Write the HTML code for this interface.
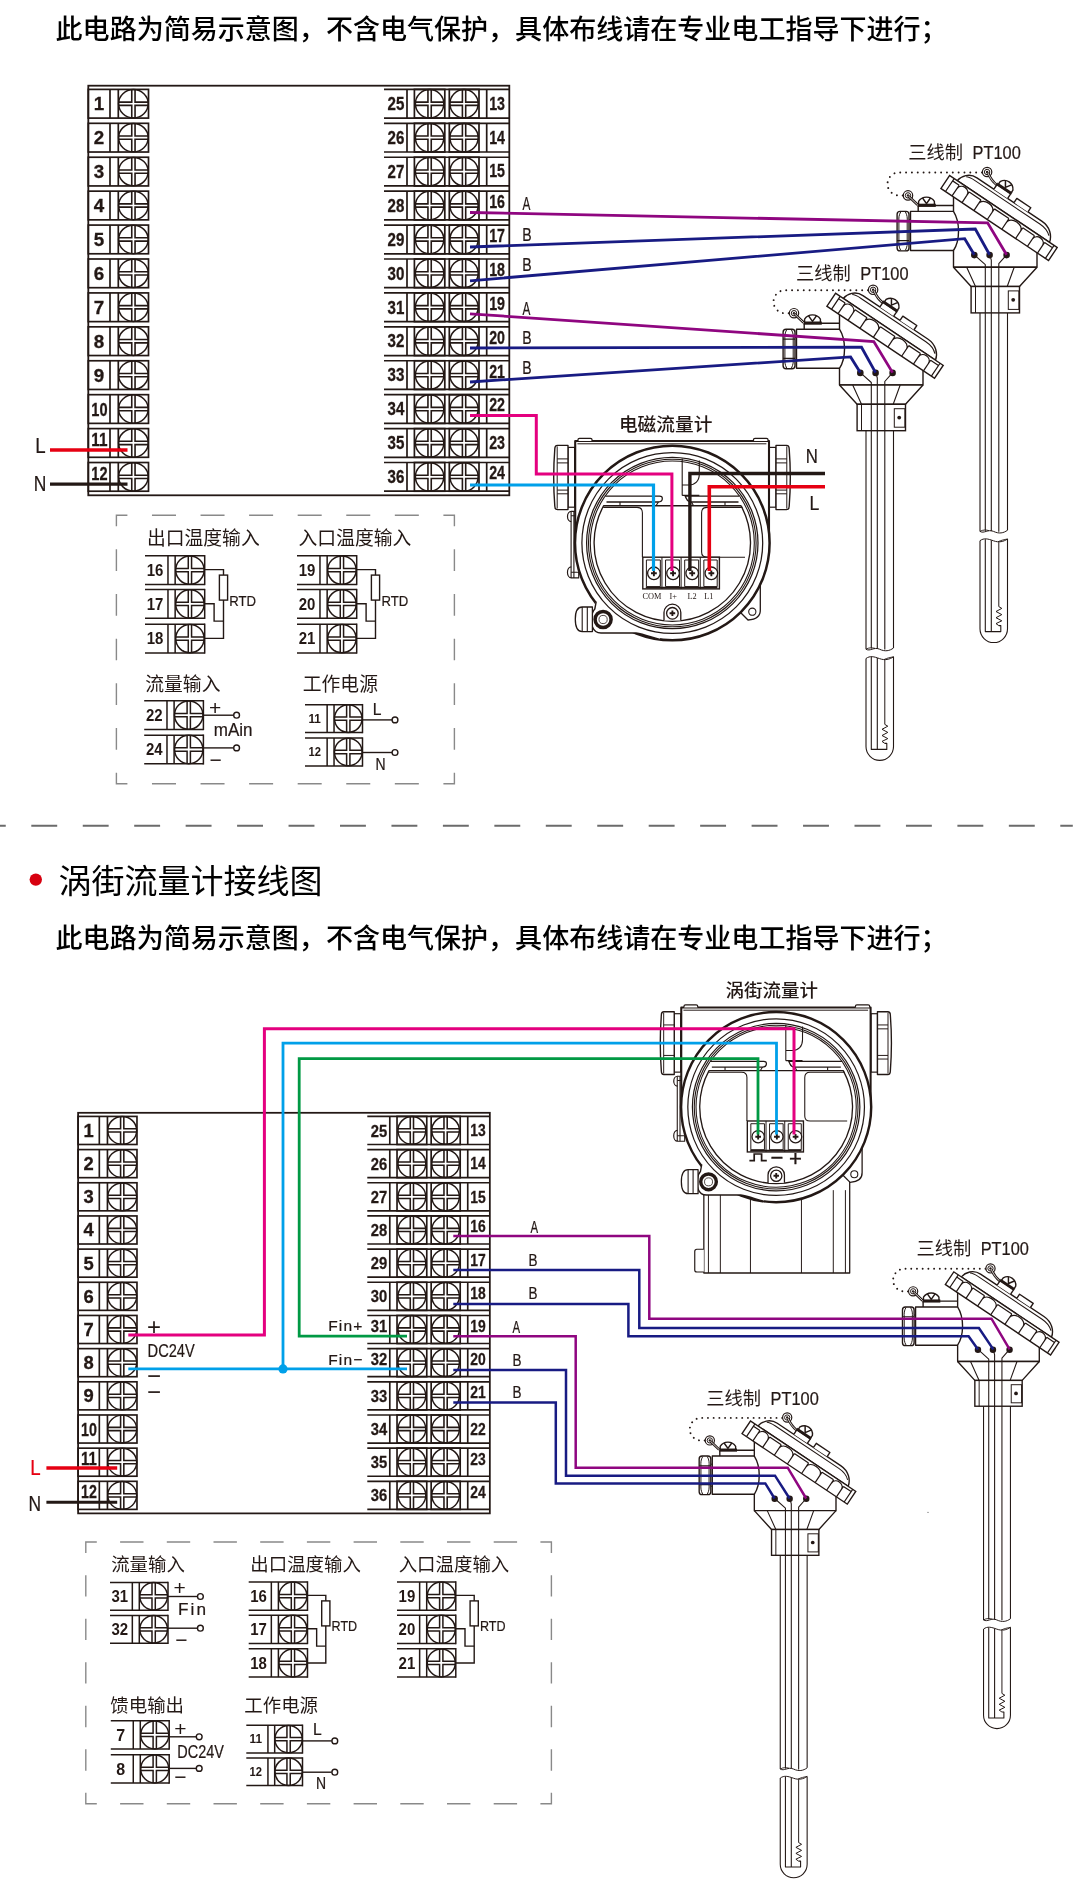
<!DOCTYPE html><html lang="zh"><head><meta charset="utf-8"><title>接线图</title><style>html,body{margin:0;padding:0;background:#fff}svg{display:block}text{white-space:pre}</style></head><body><svg width="1080" height="1881" viewBox="0 0 1080 1881"><filter id="aa" x="0" y="0" width="1080" height="1881" filterUnits="userSpaceOnUse"><feOffset dx="0" dy="0"/></filter><g filter="url(#aa)"><rect x="0" y="0" width="1080" height="1881" fill="#fff"/><text x="55.6" y="38.8" font-size="27.04" font-weight="500" fill="#000" style='font-family:"Liberation Sans","Noto Sans CJK SC",sans-serif' >此电路为简易示意图，不含电气保护，具体布线请在专业电工指导下进行；</text><defs><g id="pt"><path d="M839.5 313.5V329.2C846.2 340 846.2 358 839.5 368.3V385H923V369.5" stroke="#231815" stroke-width="1.4" fill="#fff" stroke-linejoin="round" /><path d="M839.5 329.2H796.5V368.3H839.5" stroke="#231815" stroke-width="1.4" fill="none" stroke-linejoin="round" /><path d="M804.2 329.2V323.3H839.5" stroke="#231815" stroke-width="1.4" fill="none" stroke-linejoin="round" /><path d="M804.6 322V319.2C806.7 315.8 810 314.9 812.5 314.9C815 314.9 818.3 315.8 820.4 319.2V322" stroke="#231815" stroke-width="1.4" fill="#fff" stroke-linejoin="round" /><path d="M808.4 315.6L812.5 321.4L816.6 315.6" stroke="#231815" stroke-width="1.5" fill="none" stroke-linejoin="round" /><rect x="803.6" y="321.5" width="18.2" height="3.2" fill="#231815"/><rect x="783.1" y="329.2" width="11.9" height="39.5" rx="3" fill="#fff" stroke="#231815" stroke-width="1.4"/><path d="M786.8 329.6C784.7 333 784.7 336 784.9 339.2V358.4C784.7 361.6 784.7 364.6 786.8 368.3" stroke="#231815" stroke-width="1" fill="none" stroke-linejoin="round" /><path d="M791.3 329.6C793.4 333 793.4 336 793.2 339.2V358.4C793.4 361.6 793.4 364.6 791.3 368.3" stroke="#231815" stroke-width="1" fill="none" stroke-linejoin="round" /><path d="M783.1 339.2H795M783.1 358.4H795" stroke="#231815" stroke-width="1.25" fill="none" stroke-linejoin="round" /><path d="M795 337.5H796.5M795 360H796.5" stroke="#231815" stroke-width="1" fill="none" stroke-linejoin="round" /><path d="M868 290.2H785A11.5 11.55 0 0 0 785 313.3H789" stroke="#231815" stroke-width="1.95" stroke-dasharray="0.01 5.83" stroke-linecap="round" fill="none"/><circle cx="794" cy="313.2" r="4.7" fill="#fff" stroke="#231815" stroke-width="1.2"/><circle cx="794" cy="313.2" r="2.7" fill="none" stroke="#231815" stroke-width="1.0"/><circle cx="794" cy="313.2" r="1.2" fill="#231815"/><circle cx="873.1" cy="289.8" r="4.7" fill="#fff" stroke="#231815" stroke-width="1.2"/><circle cx="873.1" cy="289.8" r="2.7" fill="none" stroke="#231815" stroke-width="1.0"/><circle cx="873.1" cy="289.8" r="1.2" fill="#231815"/><path d="M794.6 314L803.6 322.6" stroke="#231815" stroke-width="2.7" fill="none"/><path d="M794.6 314L803.6 322.6" stroke="#fff" stroke-width="0.8" fill="none"/><path d="M873.8 290.6C876.5 296.5 879 299.8 882.6 302.6" stroke="#231815" stroke-width="2.7" fill="none"/><path d="M873.8 290.6C876.5 296.5 879 299.8 882.6 302.6" stroke="#fff" stroke-width="0.8" fill="none"/><g transform="translate(835.6 293.3) rotate(33.8)"><path d="M9.2 0C10 -6 15 -13.3 24 -13.3L102 -13.3C112 -13.3 118.5 -7 120.2 0Z" stroke="#231815" stroke-width="1.4" fill="#fff" stroke-linejoin="round" /><path d="M14.5 -8.2C17 -9.9 20 -9.9 24 -9.9L102 -9.9C108 -9.9 113 -8 116 -5.2" stroke="#231815" stroke-width="1.1" fill="none" stroke-linejoin="round" /><path d="M44.4 -13.3V-18.6H61V-13.3" stroke="#231815" stroke-width="1.4" fill="#fff" stroke-linejoin="round" /><path d="M45.4 -20.4V-23C47.4 -26.8 50.4 -27.8 53 -27.8C55.6 -27.8 58.8 -26.8 60.8 -23V-20.4" stroke="#231815" stroke-width="1.4" fill="#fff" stroke-linejoin="round" /><path d="M49 -27.2L53 -21.2L57 -27.2" stroke="#231815" stroke-width="1.5" fill="none" stroke-linejoin="round" /><rect x="43.9" y="-20.9" width="17.8" height="2.6" fill="#231815"/><path d="M68.6 -13.3V-18.4H85.4V-13.3" stroke="#231815" stroke-width="1.4" fill="#fff" stroke-linejoin="round" /><rect x="0" y="0" width="129.5" height="15.6" fill="#fff" stroke="#231815" stroke-width="1.4"/><path d="M5.5 0V15.6M125.7 0V15.6M13.4 2.8V15.6M25.4 2.8V15.6M39.7 2.8V15.6M55.8 2.8V15.6M73.3 2.8V15.6M89.9 2.8V15.6M104.1 2.8V15.6M116.2 2.8V15.6M5.5 2.8H13.4M25.4 2.8H39.7M55.8 2.8H73.3M89.9 2.8H104.1M116.2 2.8H125.7M13.4 7C13.7 -0.6 25.1 -0.6 25.4 7M39.7 7C40 -0.6 55.5 -0.6 55.8 7M73.3 7C73.6 -0.6 89.6 -0.6 89.9 7M104.1 7C104.4 -0.6 115.9 -0.6 116.2 7" stroke="#231815" stroke-width="1.25" fill="none" stroke-linejoin="round" /></g><path d="M839.5 385L857.1 404.3H905.5L923 385" stroke="#231815" stroke-width="1.4" fill="#fff" stroke-linejoin="round" /><path d="M839.5 385H923" stroke="#231815" stroke-width="1.4" fill="none" stroke-linejoin="round" /><path d="M852.7 385L861.5 404.3M900.2 385L893.2 404.3" stroke="#231815" stroke-width="1.1" fill="none" stroke-linejoin="round" /><rect x="857.1" y="404.3" width="48.4" height="26.4" fill="#fff" stroke="#231815" stroke-width="1.4"/><path d="M861.5 404.3V430.7" stroke="#231815" stroke-width="1" fill="none" stroke-linejoin="round" /><rect x="894.3" y="408.7" width="10.6" height="18.5" fill="none" stroke="#231815" stroke-width="1.0"/><circle cx="899.2" cy="417.6" r="1.9" fill="#231815"/><path d="M866 430.7V649.2M893.5 430.7V648" stroke="#231815" stroke-width="1.1" fill="none" stroke-linejoin="round" /><path d="M860.3 372.6L871.3 382.5V648.6M875.8 372.6L877.3 378V649M892.6 372.6L884.8 381.5V649.6" stroke="#231815" stroke-width="1.1" fill="none" stroke-linejoin="round" /><path d="M866 649.2C870 651.8 874 646.6 879.5 649.2C885 651.8 889.5 651 893.5 648" stroke="#231815" stroke-width="1" fill="none" stroke-linejoin="round" /><path d="M866 649.2C869 647.4 872 647.6 875 648.4" stroke="#231815" stroke-width="0.9" fill="none" stroke-linejoin="round" /><path d="M866 658.5C870 655.5 874 656.6 879.5 658.6C885 660.6 889.5 659.5 893.5 656.8" stroke="#231815" stroke-width="1" fill="none" stroke-linejoin="round" /><path d="M884 659.6C887 658 890.5 657.4 893.5 656.8" stroke="#231815" stroke-width="0.9" fill="none" stroke-linejoin="round" /><path d="M866 658.5V746.6A13.75 13.75 0 0 0 893.5 746.6V656.8" stroke="#231815" stroke-width="1.1" fill="none" stroke-linejoin="round" /><path d="M871.3 657V749.4H886.8V743.4H884.8M877.3 658V749.4" stroke="#231815" stroke-width="1.1" fill="none" stroke-linejoin="round" /><path d="M884.8 660V724.4L887.8 726.2L882 729.3L887.8 732.4L882 735.5L887.8 738.6L882 741.4L884.8 743.4" stroke="#231815" stroke-width="1" fill="none" stroke-linejoin="round" /><circle cx="860.3" cy="372.9" r="3.3" fill="#231815"/><circle cx="875.6" cy="372.9" r="3.3" fill="#231815"/><circle cx="892.6" cy="372.9" r="3.3" fill="#231815"/></g></defs><g transform="translate(88.3 85.7)"><rect x="0" y="0" width="421" height="409.6" fill="none" stroke="#231815" stroke-width="1.8"/><rect x="0" y="3.7" width="60.2" height="28.7" fill="none" stroke="#231815" stroke-width="1.7"/><path d="M21.7 3.7L21.7 32.4" stroke="#231815" stroke-width="1.7" fill="none" /><path d="M30 3.7L30 32.4" stroke="#231815" stroke-width="1.7" fill="none" /><ellipse cx="45.1" cy="18.05" rx="14.8" ry="14.2" fill="none" stroke="#231815" stroke-width="1.5"/><path d="M30 16.4L43.45 16.4L43.45 3.7M30 19.7L43.45 19.7L43.45 32.4M60.2 16.4L46.75 16.4L46.75 3.7M60.2 19.7L46.75 19.7L46.75 32.4" stroke="#231815" stroke-width="1.6" fill="none"/><text x="10.8" y="24.7" font-size="18.8" font-weight="700" fill="#231815" style='font-family:"Liberation Sans","Noto Sans CJK SC",sans-serif' text-anchor="middle" stroke="#231815" stroke-width="0.3">1</text><path d="M295.7 3.7L421 3.7" stroke="#231815" stroke-width="1.7" fill="none" /><path d="M295.7 32.4L421 32.4" stroke="#231815" stroke-width="1.7" fill="none" /><path d="M318.7 3.7L318.7 32.4" stroke="#231815" stroke-width="1.7" fill="none" /><rect x="326.1" y="3.7" width="30.4" height="28.7" fill="none" stroke="#231815" stroke-width="1.7"/><rect x="361" y="3.7" width="29.7" height="28.7" fill="none" stroke="#231815" stroke-width="1.7"/><path d="M398.4 3.7L398.4 32.4" stroke="#231815" stroke-width="1.7" fill="none" /><ellipse cx="341.3" cy="18.05" rx="14.2" ry="14.2" fill="none" stroke="#231815" stroke-width="1.5"/><path d="M326.1 16.4L339.65 16.4L339.65 3.7M326.1 19.7L339.65 19.7L339.65 32.4M356.5 16.4L342.95 16.4L342.95 3.7M356.5 19.7L342.95 19.7L342.95 32.4" stroke="#231815" stroke-width="1.6" fill="none"/><ellipse cx="375.75" cy="18.05" rx="14.1" ry="14.2" fill="none" stroke="#231815" stroke-width="1.5"/><path d="M360.8 16.4L374.1 16.4L374.1 3.7M360.8 19.7L374.1 19.7L374.1 32.4M390.7 16.4L377.4 16.4L377.4 3.7M390.7 19.7L377.4 19.7L377.4 32.4" stroke="#231815" stroke-width="1.6" fill="none"/><text x="299.3" y="24.3" font-size="17.5" font-weight="700" fill="#231815" style='font-family:"Liberation Sans","Noto Sans CJK SC",sans-serif' textLength="16.8" lengthAdjust="spacingAndGlyphs" stroke="#231815" stroke-width="0.3">25</text><text x="400.9" y="23.9" font-size="17.5" font-weight="700" fill="#231815" style='font-family:"Liberation Sans","Noto Sans CJK SC",sans-serif' textLength="15.8" lengthAdjust="spacingAndGlyphs" stroke="#231815" stroke-width="0.3">13</text><rect x="0" y="37.62" width="60.2" height="28.7" fill="none" stroke="#231815" stroke-width="1.7"/><path d="M21.7 37.62L21.7 66.32" stroke="#231815" stroke-width="1.7" fill="none" /><path d="M30 37.62L30 66.32" stroke="#231815" stroke-width="1.7" fill="none" /><ellipse cx="45.1" cy="51.97" rx="14.8" ry="14.2" fill="none" stroke="#231815" stroke-width="1.5"/><path d="M30 50.32L43.45 50.32L43.45 37.62M30 53.62L43.45 53.62L43.45 66.32M60.2 50.32L46.75 50.32L46.75 37.62M60.2 53.62L46.75 53.62L46.75 66.32" stroke="#231815" stroke-width="1.6" fill="none"/><text x="10.8" y="58.62" font-size="18.8" font-weight="700" fill="#231815" style='font-family:"Liberation Sans","Noto Sans CJK SC",sans-serif' text-anchor="middle" stroke="#231815" stroke-width="0.3">2</text><path d="M295.7 37.62L421 37.62" stroke="#231815" stroke-width="1.7" fill="none" /><path d="M295.7 66.32L421 66.32" stroke="#231815" stroke-width="1.7" fill="none" /><path d="M318.7 37.62L318.7 66.32" stroke="#231815" stroke-width="1.7" fill="none" /><rect x="326.1" y="37.62" width="30.4" height="28.7" fill="none" stroke="#231815" stroke-width="1.7"/><rect x="361" y="37.62" width="29.7" height="28.7" fill="none" stroke="#231815" stroke-width="1.7"/><path d="M398.4 37.62L398.4 66.32" stroke="#231815" stroke-width="1.7" fill="none" /><ellipse cx="341.3" cy="51.97" rx="14.2" ry="14.2" fill="none" stroke="#231815" stroke-width="1.5"/><path d="M326.1 50.32L339.65 50.32L339.65 37.62M326.1 53.62L339.65 53.62L339.65 66.32M356.5 50.32L342.95 50.32L342.95 37.62M356.5 53.62L342.95 53.62L342.95 66.32" stroke="#231815" stroke-width="1.6" fill="none"/><ellipse cx="375.75" cy="51.97" rx="14.1" ry="14.2" fill="none" stroke="#231815" stroke-width="1.5"/><path d="M360.8 50.32L374.1 50.32L374.1 37.62M360.8 53.62L374.1 53.62L374.1 66.32M390.7 50.32L377.4 50.32L377.4 37.62M390.7 53.62L377.4 53.62L377.4 66.32" stroke="#231815" stroke-width="1.6" fill="none"/><text x="299.3" y="58.22" font-size="17.5" font-weight="700" fill="#231815" style='font-family:"Liberation Sans","Noto Sans CJK SC",sans-serif' textLength="16.8" lengthAdjust="spacingAndGlyphs" stroke="#231815" stroke-width="0.3">26</text><text x="400.9" y="57.82" font-size="17.5" font-weight="700" fill="#231815" style='font-family:"Liberation Sans","Noto Sans CJK SC",sans-serif' textLength="15.8" lengthAdjust="spacingAndGlyphs" stroke="#231815" stroke-width="0.3">14</text><rect x="0" y="71.54" width="60.2" height="28.7" fill="none" stroke="#231815" stroke-width="1.7"/><path d="M21.7 71.54L21.7 100.24" stroke="#231815" stroke-width="1.7" fill="none" /><path d="M30 71.54L30 100.24" stroke="#231815" stroke-width="1.7" fill="none" /><ellipse cx="45.1" cy="85.89" rx="14.8" ry="14.2" fill="none" stroke="#231815" stroke-width="1.5"/><path d="M30 84.24L43.45 84.24L43.45 71.54M30 87.54L43.45 87.54L43.45 100.24M60.2 84.24L46.75 84.24L46.75 71.54M60.2 87.54L46.75 87.54L46.75 100.24" stroke="#231815" stroke-width="1.6" fill="none"/><text x="10.8" y="92.54" font-size="18.8" font-weight="700" fill="#231815" style='font-family:"Liberation Sans","Noto Sans CJK SC",sans-serif' text-anchor="middle" stroke="#231815" stroke-width="0.3">3</text><path d="M295.7 71.54L421 71.54" stroke="#231815" stroke-width="1.7" fill="none" /><path d="M295.7 100.24L421 100.24" stroke="#231815" stroke-width="1.7" fill="none" /><path d="M318.7 71.54L318.7 100.24" stroke="#231815" stroke-width="1.7" fill="none" /><rect x="326.1" y="71.54" width="30.4" height="28.7" fill="none" stroke="#231815" stroke-width="1.7"/><rect x="361" y="71.54" width="29.7" height="28.7" fill="none" stroke="#231815" stroke-width="1.7"/><path d="M398.4 71.54L398.4 100.24" stroke="#231815" stroke-width="1.7" fill="none" /><ellipse cx="341.3" cy="85.89" rx="14.2" ry="14.2" fill="none" stroke="#231815" stroke-width="1.5"/><path d="M326.1 84.24L339.65 84.24L339.65 71.54M326.1 87.54L339.65 87.54L339.65 100.24M356.5 84.24L342.95 84.24L342.95 71.54M356.5 87.54L342.95 87.54L342.95 100.24" stroke="#231815" stroke-width="1.6" fill="none"/><ellipse cx="375.75" cy="85.89" rx="14.1" ry="14.2" fill="none" stroke="#231815" stroke-width="1.5"/><path d="M360.8 84.24L374.1 84.24L374.1 71.54M360.8 87.54L374.1 87.54L374.1 100.24M390.7 84.24L377.4 84.24L377.4 71.54M390.7 87.54L377.4 87.54L377.4 100.24" stroke="#231815" stroke-width="1.6" fill="none"/><text x="299.3" y="92.14" font-size="17.5" font-weight="700" fill="#231815" style='font-family:"Liberation Sans","Noto Sans CJK SC",sans-serif' textLength="16.8" lengthAdjust="spacingAndGlyphs" stroke="#231815" stroke-width="0.3">27</text><text x="400.9" y="91.74" font-size="17.5" font-weight="700" fill="#231815" style='font-family:"Liberation Sans","Noto Sans CJK SC",sans-serif' textLength="15.8" lengthAdjust="spacingAndGlyphs" stroke="#231815" stroke-width="0.3">15</text><rect x="0" y="105.46" width="60.2" height="28.7" fill="none" stroke="#231815" stroke-width="1.7"/><path d="M21.7 105.46L21.7 134.16" stroke="#231815" stroke-width="1.7" fill="none" /><path d="M30 105.46L30 134.16" stroke="#231815" stroke-width="1.7" fill="none" /><ellipse cx="45.1" cy="119.81" rx="14.8" ry="14.2" fill="none" stroke="#231815" stroke-width="1.5"/><path d="M30 118.16L43.45 118.16L43.45 105.46M30 121.46L43.45 121.46L43.45 134.16M60.2 118.16L46.75 118.16L46.75 105.46M60.2 121.46L46.75 121.46L46.75 134.16" stroke="#231815" stroke-width="1.6" fill="none"/><text x="10.8" y="126.46" font-size="18.8" font-weight="700" fill="#231815" style='font-family:"Liberation Sans","Noto Sans CJK SC",sans-serif' text-anchor="middle" stroke="#231815" stroke-width="0.3">4</text><path d="M295.7 105.46L421 105.46" stroke="#231815" stroke-width="1.7" fill="none" /><path d="M295.7 134.16L421 134.16" stroke="#231815" stroke-width="1.7" fill="none" /><path d="M318.7 105.46L318.7 134.16" stroke="#231815" stroke-width="1.7" fill="none" /><rect x="326.1" y="105.46" width="30.4" height="28.7" fill="none" stroke="#231815" stroke-width="1.7"/><rect x="361" y="105.46" width="29.7" height="28.7" fill="none" stroke="#231815" stroke-width="1.7"/><path d="M398.4 105.46L398.4 134.16" stroke="#231815" stroke-width="1.7" fill="none" /><ellipse cx="341.3" cy="119.81" rx="14.2" ry="14.2" fill="none" stroke="#231815" stroke-width="1.5"/><path d="M326.1 118.16L339.65 118.16L339.65 105.46M326.1 121.46L339.65 121.46L339.65 134.16M356.5 118.16L342.95 118.16L342.95 105.46M356.5 121.46L342.95 121.46L342.95 134.16" stroke="#231815" stroke-width="1.6" fill="none"/><ellipse cx="375.75" cy="119.81" rx="14.1" ry="14.2" fill="none" stroke="#231815" stroke-width="1.5"/><path d="M360.8 118.16L374.1 118.16L374.1 105.46M360.8 121.46L374.1 121.46L374.1 134.16M390.7 118.16L377.4 118.16L377.4 105.46M390.7 121.46L377.4 121.46L377.4 134.16" stroke="#231815" stroke-width="1.6" fill="none"/><text x="299.3" y="126.06" font-size="17.5" font-weight="700" fill="#231815" style='font-family:"Liberation Sans","Noto Sans CJK SC",sans-serif' textLength="16.8" lengthAdjust="spacingAndGlyphs" stroke="#231815" stroke-width="0.3">28</text><text x="400.9" y="122.26" font-size="17.5" font-weight="700" fill="#231815" style='font-family:"Liberation Sans","Noto Sans CJK SC",sans-serif' textLength="15.8" lengthAdjust="spacingAndGlyphs" stroke="#231815" stroke-width="0.3">16</text><rect x="0" y="139.38" width="60.2" height="28.7" fill="none" stroke="#231815" stroke-width="1.7"/><path d="M21.7 139.38L21.7 168.08" stroke="#231815" stroke-width="1.7" fill="none" /><path d="M30 139.38L30 168.08" stroke="#231815" stroke-width="1.7" fill="none" /><ellipse cx="45.1" cy="153.73" rx="14.8" ry="14.2" fill="none" stroke="#231815" stroke-width="1.5"/><path d="M30 152.08L43.45 152.08L43.45 139.38M30 155.38L43.45 155.38L43.45 168.08M60.2 152.08L46.75 152.08L46.75 139.38M60.2 155.38L46.75 155.38L46.75 168.08" stroke="#231815" stroke-width="1.6" fill="none"/><text x="10.8" y="160.38" font-size="18.8" font-weight="700" fill="#231815" style='font-family:"Liberation Sans","Noto Sans CJK SC",sans-serif' text-anchor="middle" stroke="#231815" stroke-width="0.3">5</text><path d="M295.7 139.38L421 139.38" stroke="#231815" stroke-width="1.7" fill="none" /><path d="M295.7 168.08L421 168.08" stroke="#231815" stroke-width="1.7" fill="none" /><path d="M318.7 139.38L318.7 168.08" stroke="#231815" stroke-width="1.7" fill="none" /><rect x="326.1" y="139.38" width="30.4" height="28.7" fill="none" stroke="#231815" stroke-width="1.7"/><rect x="361" y="139.38" width="29.7" height="28.7" fill="none" stroke="#231815" stroke-width="1.7"/><path d="M398.4 139.38L398.4 168.08" stroke="#231815" stroke-width="1.7" fill="none" /><ellipse cx="341.3" cy="153.73" rx="14.2" ry="14.2" fill="none" stroke="#231815" stroke-width="1.5"/><path d="M326.1 152.08L339.65 152.08L339.65 139.38M326.1 155.38L339.65 155.38L339.65 168.08M356.5 152.08L342.95 152.08L342.95 139.38M356.5 155.38L342.95 155.38L342.95 168.08" stroke="#231815" stroke-width="1.6" fill="none"/><ellipse cx="375.75" cy="153.73" rx="14.1" ry="14.2" fill="none" stroke="#231815" stroke-width="1.5"/><path d="M360.8 152.08L374.1 152.08L374.1 139.38M360.8 155.38L374.1 155.38L374.1 168.08M390.7 152.08L377.4 152.08L377.4 139.38M390.7 155.38L377.4 155.38L377.4 168.08" stroke="#231815" stroke-width="1.6" fill="none"/><text x="299.3" y="159.98" font-size="17.5" font-weight="700" fill="#231815" style='font-family:"Liberation Sans","Noto Sans CJK SC",sans-serif' textLength="16.8" lengthAdjust="spacingAndGlyphs" stroke="#231815" stroke-width="0.3">29</text><text x="400.9" y="156.18" font-size="17.5" font-weight="700" fill="#231815" style='font-family:"Liberation Sans","Noto Sans CJK SC",sans-serif' textLength="15.8" lengthAdjust="spacingAndGlyphs" stroke="#231815" stroke-width="0.3">17</text><rect x="0" y="173.3" width="60.2" height="28.7" fill="none" stroke="#231815" stroke-width="1.7"/><path d="M21.7 173.3L21.7 202" stroke="#231815" stroke-width="1.7" fill="none" /><path d="M30 173.3L30 202" stroke="#231815" stroke-width="1.7" fill="none" /><ellipse cx="45.1" cy="187.65" rx="14.8" ry="14.2" fill="none" stroke="#231815" stroke-width="1.5"/><path d="M30 186L43.45 186L43.45 173.3M30 189.3L43.45 189.3L43.45 202M60.2 186L46.75 186L46.75 173.3M60.2 189.3L46.75 189.3L46.75 202" stroke="#231815" stroke-width="1.6" fill="none"/><text x="10.8" y="194.3" font-size="18.8" font-weight="700" fill="#231815" style='font-family:"Liberation Sans","Noto Sans CJK SC",sans-serif' text-anchor="middle" stroke="#231815" stroke-width="0.3">6</text><path d="M295.7 173.3L421 173.3" stroke="#231815" stroke-width="1.7" fill="none" /><path d="M295.7 202L421 202" stroke="#231815" stroke-width="1.7" fill="none" /><path d="M318.7 173.3L318.7 202" stroke="#231815" stroke-width="1.7" fill="none" /><rect x="326.1" y="173.3" width="30.4" height="28.7" fill="none" stroke="#231815" stroke-width="1.7"/><rect x="361" y="173.3" width="29.7" height="28.7" fill="none" stroke="#231815" stroke-width="1.7"/><path d="M398.4 173.3L398.4 202" stroke="#231815" stroke-width="1.7" fill="none" /><ellipse cx="341.3" cy="187.65" rx="14.2" ry="14.2" fill="none" stroke="#231815" stroke-width="1.5"/><path d="M326.1 186L339.65 186L339.65 173.3M326.1 189.3L339.65 189.3L339.65 202M356.5 186L342.95 186L342.95 173.3M356.5 189.3L342.95 189.3L342.95 202" stroke="#231815" stroke-width="1.6" fill="none"/><ellipse cx="375.75" cy="187.65" rx="14.1" ry="14.2" fill="none" stroke="#231815" stroke-width="1.5"/><path d="M360.8 186L374.1 186L374.1 173.3M360.8 189.3L374.1 189.3L374.1 202M390.7 186L377.4 186L377.4 173.3M390.7 189.3L377.4 189.3L377.4 202" stroke="#231815" stroke-width="1.6" fill="none"/><text x="299.3" y="193.9" font-size="17.5" font-weight="700" fill="#231815" style='font-family:"Liberation Sans","Noto Sans CJK SC",sans-serif' textLength="16.8" lengthAdjust="spacingAndGlyphs" stroke="#231815" stroke-width="0.3">30</text><text x="400.9" y="190.1" font-size="17.5" font-weight="700" fill="#231815" style='font-family:"Liberation Sans","Noto Sans CJK SC",sans-serif' textLength="15.8" lengthAdjust="spacingAndGlyphs" stroke="#231815" stroke-width="0.3">18</text><rect x="0" y="207.22" width="60.2" height="28.7" fill="none" stroke="#231815" stroke-width="1.7"/><path d="M21.7 207.22L21.7 235.92" stroke="#231815" stroke-width="1.7" fill="none" /><path d="M30 207.22L30 235.92" stroke="#231815" stroke-width="1.7" fill="none" /><ellipse cx="45.1" cy="221.57" rx="14.8" ry="14.2" fill="none" stroke="#231815" stroke-width="1.5"/><path d="M30 219.92L43.45 219.92L43.45 207.22M30 223.22L43.45 223.22L43.45 235.92M60.2 219.92L46.75 219.92L46.75 207.22M60.2 223.22L46.75 223.22L46.75 235.92" stroke="#231815" stroke-width="1.6" fill="none"/><text x="10.8" y="228.22" font-size="18.8" font-weight="700" fill="#231815" style='font-family:"Liberation Sans","Noto Sans CJK SC",sans-serif' text-anchor="middle" stroke="#231815" stroke-width="0.3">7</text><path d="M295.7 207.22L421 207.22" stroke="#231815" stroke-width="1.7" fill="none" /><path d="M295.7 235.92L421 235.92" stroke="#231815" stroke-width="1.7" fill="none" /><path d="M318.7 207.22L318.7 235.92" stroke="#231815" stroke-width="1.7" fill="none" /><rect x="326.1" y="207.22" width="30.4" height="28.7" fill="none" stroke="#231815" stroke-width="1.7"/><rect x="361" y="207.22" width="29.7" height="28.7" fill="none" stroke="#231815" stroke-width="1.7"/><path d="M398.4 207.22L398.4 235.92" stroke="#231815" stroke-width="1.7" fill="none" /><ellipse cx="341.3" cy="221.57" rx="14.2" ry="14.2" fill="none" stroke="#231815" stroke-width="1.5"/><path d="M326.1 219.92L339.65 219.92L339.65 207.22M326.1 223.22L339.65 223.22L339.65 235.92M356.5 219.92L342.95 219.92L342.95 207.22M356.5 223.22L342.95 223.22L342.95 235.92" stroke="#231815" stroke-width="1.6" fill="none"/><ellipse cx="375.75" cy="221.57" rx="14.1" ry="14.2" fill="none" stroke="#231815" stroke-width="1.5"/><path d="M360.8 219.92L374.1 219.92L374.1 207.22M360.8 223.22L374.1 223.22L374.1 235.92M390.7 219.92L377.4 219.92L377.4 207.22M390.7 223.22L377.4 223.22L377.4 235.92" stroke="#231815" stroke-width="1.6" fill="none"/><text x="299.3" y="227.82" font-size="17.5" font-weight="700" fill="#231815" style='font-family:"Liberation Sans","Noto Sans CJK SC",sans-serif' textLength="16.8" lengthAdjust="spacingAndGlyphs" stroke="#231815" stroke-width="0.3">31</text><text x="400.9" y="224.02" font-size="17.5" font-weight="700" fill="#231815" style='font-family:"Liberation Sans","Noto Sans CJK SC",sans-serif' textLength="15.8" lengthAdjust="spacingAndGlyphs" stroke="#231815" stroke-width="0.3">19</text><rect x="0" y="241.14" width="60.2" height="28.7" fill="none" stroke="#231815" stroke-width="1.7"/><path d="M21.7 241.14L21.7 269.84" stroke="#231815" stroke-width="1.7" fill="none" /><path d="M30 241.14L30 269.84" stroke="#231815" stroke-width="1.7" fill="none" /><ellipse cx="45.1" cy="255.49" rx="14.8" ry="14.2" fill="none" stroke="#231815" stroke-width="1.5"/><path d="M30 253.84L43.45 253.84L43.45 241.14M30 257.14L43.45 257.14L43.45 269.84M60.2 253.84L46.75 253.84L46.75 241.14M60.2 257.14L46.75 257.14L46.75 269.84" stroke="#231815" stroke-width="1.6" fill="none"/><text x="10.8" y="262.14" font-size="18.8" font-weight="700" fill="#231815" style='font-family:"Liberation Sans","Noto Sans CJK SC",sans-serif' text-anchor="middle" stroke="#231815" stroke-width="0.3">8</text><path d="M295.7 241.14L421 241.14" stroke="#231815" stroke-width="1.7" fill="none" /><path d="M295.7 269.84L421 269.84" stroke="#231815" stroke-width="1.7" fill="none" /><path d="M318.7 241.14L318.7 269.84" stroke="#231815" stroke-width="1.7" fill="none" /><rect x="326.1" y="241.14" width="30.4" height="28.7" fill="none" stroke="#231815" stroke-width="1.7"/><rect x="361" y="241.14" width="29.7" height="28.7" fill="none" stroke="#231815" stroke-width="1.7"/><path d="M398.4 241.14L398.4 269.84" stroke="#231815" stroke-width="1.7" fill="none" /><ellipse cx="341.3" cy="255.49" rx="14.2" ry="14.2" fill="none" stroke="#231815" stroke-width="1.5"/><path d="M326.1 253.84L339.65 253.84L339.65 241.14M326.1 257.14L339.65 257.14L339.65 269.84M356.5 253.84L342.95 253.84L342.95 241.14M356.5 257.14L342.95 257.14L342.95 269.84" stroke="#231815" stroke-width="1.6" fill="none"/><ellipse cx="375.75" cy="255.49" rx="14.1" ry="14.2" fill="none" stroke="#231815" stroke-width="1.5"/><path d="M360.8 253.84L374.1 253.84L374.1 241.14M360.8 257.14L374.1 257.14L374.1 269.84M390.7 253.84L377.4 253.84L377.4 241.14M390.7 257.14L377.4 257.14L377.4 269.84" stroke="#231815" stroke-width="1.6" fill="none"/><text x="299.3" y="261.74" font-size="17.5" font-weight="700" fill="#231815" style='font-family:"Liberation Sans","Noto Sans CJK SC",sans-serif' textLength="16.8" lengthAdjust="spacingAndGlyphs" stroke="#231815" stroke-width="0.3">32</text><text x="400.9" y="257.94" font-size="17.5" font-weight="700" fill="#231815" style='font-family:"Liberation Sans","Noto Sans CJK SC",sans-serif' textLength="15.8" lengthAdjust="spacingAndGlyphs" stroke="#231815" stroke-width="0.3">20</text><rect x="0" y="275.06" width="60.2" height="28.7" fill="none" stroke="#231815" stroke-width="1.7"/><path d="M21.7 275.06L21.7 303.76" stroke="#231815" stroke-width="1.7" fill="none" /><path d="M30 275.06L30 303.76" stroke="#231815" stroke-width="1.7" fill="none" /><ellipse cx="45.1" cy="289.41" rx="14.8" ry="14.2" fill="none" stroke="#231815" stroke-width="1.5"/><path d="M30 287.76L43.45 287.76L43.45 275.06M30 291.06L43.45 291.06L43.45 303.76M60.2 287.76L46.75 287.76L46.75 275.06M60.2 291.06L46.75 291.06L46.75 303.76" stroke="#231815" stroke-width="1.6" fill="none"/><text x="10.8" y="296.06" font-size="18.8" font-weight="700" fill="#231815" style='font-family:"Liberation Sans","Noto Sans CJK SC",sans-serif' text-anchor="middle" stroke="#231815" stroke-width="0.3">9</text><path d="M295.7 275.06L421 275.06" stroke="#231815" stroke-width="1.7" fill="none" /><path d="M295.7 303.76L421 303.76" stroke="#231815" stroke-width="1.7" fill="none" /><path d="M318.7 275.06L318.7 303.76" stroke="#231815" stroke-width="1.7" fill="none" /><rect x="326.1" y="275.06" width="30.4" height="28.7" fill="none" stroke="#231815" stroke-width="1.7"/><rect x="361" y="275.06" width="29.7" height="28.7" fill="none" stroke="#231815" stroke-width="1.7"/><path d="M398.4 275.06L398.4 303.76" stroke="#231815" stroke-width="1.7" fill="none" /><ellipse cx="341.3" cy="289.41" rx="14.2" ry="14.2" fill="none" stroke="#231815" stroke-width="1.5"/><path d="M326.1 287.76L339.65 287.76L339.65 275.06M326.1 291.06L339.65 291.06L339.65 303.76M356.5 287.76L342.95 287.76L342.95 275.06M356.5 291.06L342.95 291.06L342.95 303.76" stroke="#231815" stroke-width="1.6" fill="none"/><ellipse cx="375.75" cy="289.41" rx="14.1" ry="14.2" fill="none" stroke="#231815" stroke-width="1.5"/><path d="M360.8 287.76L374.1 287.76L374.1 275.06M360.8 291.06L374.1 291.06L374.1 303.76M390.7 287.76L377.4 287.76L377.4 275.06M390.7 291.06L377.4 291.06L377.4 303.76" stroke="#231815" stroke-width="1.6" fill="none"/><text x="299.3" y="295.66" font-size="17.5" font-weight="700" fill="#231815" style='font-family:"Liberation Sans","Noto Sans CJK SC",sans-serif' textLength="16.8" lengthAdjust="spacingAndGlyphs" stroke="#231815" stroke-width="0.3">33</text><text x="400.9" y="291.86" font-size="17.5" font-weight="700" fill="#231815" style='font-family:"Liberation Sans","Noto Sans CJK SC",sans-serif' textLength="15.8" lengthAdjust="spacingAndGlyphs" stroke="#231815" stroke-width="0.3">21</text><rect x="0" y="308.98" width="60.2" height="28.7" fill="none" stroke="#231815" stroke-width="1.7"/><path d="M21.7 308.98L21.7 337.68" stroke="#231815" stroke-width="1.7" fill="none" /><path d="M30 308.98L30 337.68" stroke="#231815" stroke-width="1.7" fill="none" /><ellipse cx="45.1" cy="323.33" rx="14.8" ry="14.2" fill="none" stroke="#231815" stroke-width="1.5"/><path d="M30 321.68L43.45 321.68L43.45 308.98M30 324.98L43.45 324.98L43.45 337.68M60.2 321.68L46.75 321.68L46.75 308.98M60.2 324.98L46.75 324.98L46.75 337.68" stroke="#231815" stroke-width="1.6" fill="none"/><text x="3" y="329.98" font-size="19" font-weight="700" fill="#231815" style='font-family:"Liberation Sans","Noto Sans CJK SC",sans-serif' textLength="16.2" lengthAdjust="spacingAndGlyphs" stroke="#231815" stroke-width="0.3">10</text><path d="M295.7 308.98L421 308.98" stroke="#231815" stroke-width="1.7" fill="none" /><path d="M295.7 337.68L421 337.68" stroke="#231815" stroke-width="1.7" fill="none" /><path d="M318.7 308.98L318.7 337.68" stroke="#231815" stroke-width="1.7" fill="none" /><rect x="326.1" y="308.98" width="30.4" height="28.7" fill="none" stroke="#231815" stroke-width="1.7"/><rect x="361" y="308.98" width="29.7" height="28.7" fill="none" stroke="#231815" stroke-width="1.7"/><path d="M398.4 308.98L398.4 337.68" stroke="#231815" stroke-width="1.7" fill="none" /><ellipse cx="341.3" cy="323.33" rx="14.2" ry="14.2" fill="none" stroke="#231815" stroke-width="1.5"/><path d="M326.1 321.68L339.65 321.68L339.65 308.98M326.1 324.98L339.65 324.98L339.65 337.68M356.5 321.68L342.95 321.68L342.95 308.98M356.5 324.98L342.95 324.98L342.95 337.68" stroke="#231815" stroke-width="1.6" fill="none"/><ellipse cx="375.75" cy="323.33" rx="14.1" ry="14.2" fill="none" stroke="#231815" stroke-width="1.5"/><path d="M360.8 321.68L374.1 321.68L374.1 308.98M360.8 324.98L374.1 324.98L374.1 337.68M390.7 321.68L377.4 321.68L377.4 308.98M390.7 324.98L377.4 324.98L377.4 337.68" stroke="#231815" stroke-width="1.6" fill="none"/><text x="299.3" y="329.58" font-size="17.5" font-weight="700" fill="#231815" style='font-family:"Liberation Sans","Noto Sans CJK SC",sans-serif' textLength="16.8" lengthAdjust="spacingAndGlyphs" stroke="#231815" stroke-width="0.3">34</text><text x="400.9" y="325.78" font-size="17.5" font-weight="700" fill="#231815" style='font-family:"Liberation Sans","Noto Sans CJK SC",sans-serif' textLength="15.8" lengthAdjust="spacingAndGlyphs" stroke="#231815" stroke-width="0.3">22</text><rect x="0" y="342.9" width="60.2" height="28.7" fill="none" stroke="#231815" stroke-width="1.7"/><path d="M21.7 342.9L21.7 371.6" stroke="#231815" stroke-width="1.7" fill="none" /><path d="M30 342.9L30 371.6" stroke="#231815" stroke-width="1.7" fill="none" /><ellipse cx="45.1" cy="357.25" rx="14.8" ry="14.2" fill="none" stroke="#231815" stroke-width="1.5"/><path d="M30 355.6L43.45 355.6L43.45 342.9M30 358.9L43.45 358.9L43.45 371.6M60.2 355.6L46.75 355.6L46.75 342.9M60.2 358.9L46.75 358.9L46.75 371.6" stroke="#231815" stroke-width="1.6" fill="none"/><text x="3" y="360.2" font-size="19" font-weight="700" fill="#231815" style='font-family:"Liberation Sans","Noto Sans CJK SC",sans-serif' textLength="16.2" lengthAdjust="spacingAndGlyphs" stroke="#231815" stroke-width="0.3">11</text><path d="M295.7 342.9L421 342.9" stroke="#231815" stroke-width="1.7" fill="none" /><path d="M295.7 371.6L421 371.6" stroke="#231815" stroke-width="1.7" fill="none" /><path d="M318.7 342.9L318.7 371.6" stroke="#231815" stroke-width="1.7" fill="none" /><rect x="326.1" y="342.9" width="30.4" height="28.7" fill="none" stroke="#231815" stroke-width="1.7"/><rect x="361" y="342.9" width="29.7" height="28.7" fill="none" stroke="#231815" stroke-width="1.7"/><path d="M398.4 342.9L398.4 371.6" stroke="#231815" stroke-width="1.7" fill="none" /><ellipse cx="341.3" cy="357.25" rx="14.2" ry="14.2" fill="none" stroke="#231815" stroke-width="1.5"/><path d="M326.1 355.6L339.65 355.6L339.65 342.9M326.1 358.9L339.65 358.9L339.65 371.6M356.5 355.6L342.95 355.6L342.95 342.9M356.5 358.9L342.95 358.9L342.95 371.6" stroke="#231815" stroke-width="1.6" fill="none"/><ellipse cx="375.75" cy="357.25" rx="14.1" ry="14.2" fill="none" stroke="#231815" stroke-width="1.5"/><path d="M360.8 355.6L374.1 355.6L374.1 342.9M360.8 358.9L374.1 358.9L374.1 371.6M390.7 355.6L377.4 355.6L377.4 342.9M390.7 358.9L377.4 358.9L377.4 371.6" stroke="#231815" stroke-width="1.6" fill="none"/><text x="299.3" y="363.5" font-size="17.5" font-weight="700" fill="#231815" style='font-family:"Liberation Sans","Noto Sans CJK SC",sans-serif' textLength="16.8" lengthAdjust="spacingAndGlyphs" stroke="#231815" stroke-width="0.3">35</text><text x="400.9" y="363.1" font-size="17.5" font-weight="700" fill="#231815" style='font-family:"Liberation Sans","Noto Sans CJK SC",sans-serif' textLength="15.8" lengthAdjust="spacingAndGlyphs" stroke="#231815" stroke-width="0.3">23</text><rect x="0" y="376.82" width="60.2" height="28.7" fill="none" stroke="#231815" stroke-width="1.7"/><path d="M21.7 376.82L21.7 405.52" stroke="#231815" stroke-width="1.7" fill="none" /><path d="M30 376.82L30 405.52" stroke="#231815" stroke-width="1.7" fill="none" /><ellipse cx="45.1" cy="391.17" rx="14.8" ry="14.2" fill="none" stroke="#231815" stroke-width="1.5"/><path d="M30 389.52L43.45 389.52L43.45 376.82M30 392.82L43.45 392.82L43.45 405.52M60.2 389.52L46.75 389.52L46.75 376.82M60.2 392.82L46.75 392.82L46.75 405.52" stroke="#231815" stroke-width="1.6" fill="none"/><text x="3" y="394.12" font-size="19" font-weight="700" fill="#231815" style='font-family:"Liberation Sans","Noto Sans CJK SC",sans-serif' textLength="16.2" lengthAdjust="spacingAndGlyphs" stroke="#231815" stroke-width="0.3">12</text><path d="M295.7 376.82L421 376.82" stroke="#231815" stroke-width="1.7" fill="none" /><path d="M295.7 405.52L421 405.52" stroke="#231815" stroke-width="1.7" fill="none" /><path d="M318.7 376.82L318.7 405.52" stroke="#231815" stroke-width="1.7" fill="none" /><rect x="326.1" y="376.82" width="30.4" height="28.7" fill="none" stroke="#231815" stroke-width="1.7"/><rect x="361" y="376.82" width="29.7" height="28.7" fill="none" stroke="#231815" stroke-width="1.7"/><path d="M398.4 376.82L398.4 405.52" stroke="#231815" stroke-width="1.7" fill="none" /><ellipse cx="341.3" cy="391.17" rx="14.2" ry="14.2" fill="none" stroke="#231815" stroke-width="1.5"/><path d="M326.1 389.52L339.65 389.52L339.65 376.82M326.1 392.82L339.65 392.82L339.65 405.52M356.5 389.52L342.95 389.52L342.95 376.82M356.5 392.82L342.95 392.82L342.95 405.52" stroke="#231815" stroke-width="1.6" fill="none"/><ellipse cx="375.75" cy="391.17" rx="14.1" ry="14.2" fill="none" stroke="#231815" stroke-width="1.5"/><path d="M360.8 389.52L374.1 389.52L374.1 376.82M360.8 392.82L374.1 392.82L374.1 405.52M390.7 389.52L377.4 389.52L377.4 376.82M390.7 392.82L377.4 392.82L377.4 405.52" stroke="#231815" stroke-width="1.6" fill="none"/><text x="299.3" y="397.42" font-size="17.5" font-weight="700" fill="#231815" style='font-family:"Liberation Sans","Noto Sans CJK SC",sans-serif' textLength="16.8" lengthAdjust="spacingAndGlyphs" stroke="#231815" stroke-width="0.3">36</text><text x="400.9" y="393.62" font-size="17.5" font-weight="700" fill="#231815" style='font-family:"Liberation Sans","Noto Sans CJK SC",sans-serif' textLength="15.8" lengthAdjust="spacingAndGlyphs" stroke="#231815" stroke-width="0.3">24</text></g><path d="M760.3 585V610C760.5 616 757 619.4 748 620L740 612Z" stroke="#231815" stroke-width="1.3" fill="#fff" stroke-linejoin="round" /><path d="M571.3 511.4A3.8 5.1 0 0 0 571.3 521.6M571.3 566.8A3.8 5.5 0 0 0 571.3 577.9" stroke="#231815" stroke-width="1.2" fill="#fff" stroke-linejoin="round" /><path d="M571.1 511.4V577.9M573.9 511.4V577.9" stroke="#231815" stroke-width="1.1" fill="none" stroke-linejoin="round" /><path d="M571.1 511.4H578.7V515.8H571.1M571.1 572.3H578.7V577.9H571.1" stroke="#231815" stroke-width="1.1" fill="none" stroke-linejoin="round" /><rect x="568" y="447.4" width="6.6" height="59.8" fill="#fff" stroke="#231815" stroke-width="1.2"/><path d="M568 445.4H557.5Q554.8 445.4 554.8 449Q552.6 477.5 554.8 506Q554.8 509.6 557.5 509.6H568Z" stroke="#231815" stroke-width="1.4" fill="#fff" stroke-linejoin="round" /><path d="M557.2 446.4V508.6" stroke="#231815" stroke-width="1" fill="none" stroke-linejoin="round" /><path d="M557.2 458.9H568M557.2 462.9H568M557.2 490.1H568M557.2 493.8H568" stroke="#231815" stroke-width="1" fill="none" stroke-linejoin="round" /><rect x="769.4" y="447.4" width="6.6" height="59.8" fill="#fff" stroke="#231815" stroke-width="1.2"/><path d="M776 445.4H786.5Q789.2 445.4 789.2 449Q791.4 477.5 789.2 506Q789.2 509.6 786.5 509.6H776Z" stroke="#231815" stroke-width="1.4" fill="#fff" stroke-linejoin="round" /><path d="M786.8 446.4V508.6" stroke="#231815" stroke-width="1" fill="none" stroke-linejoin="round" /><path d="M776 458.9H786.8M776 462.9H786.8M776 490.1H786.8M776 493.8H786.8" stroke="#231815" stroke-width="1" fill="none" stroke-linejoin="round" /><path d="M575.2 543V441H769 V543" stroke="#231815" stroke-width="2.1" fill="#fff" stroke-linejoin="round" /><path d="M577.4 443.8H766.4" stroke="#231815" stroke-width="1" fill="none" stroke-linejoin="round" /><path d="M578 441V439.6Q578 438.3 579.5 438.3H590.5Q592 438.3 592 439.6V441" stroke="#231815" stroke-width="1.2" fill="#fff" stroke-linejoin="round" /><path d="M753.5 441V439.6Q753.5 438.3 755 438.3H766.5Q768 438.3 768 439.6V441" stroke="#231815" stroke-width="1.2" fill="#fff" stroke-linejoin="round" /><circle cx="672.3" cy="543" r="97.3" fill="#fff" stroke="#231815" stroke-width="2.5"/><circle cx="672.3" cy="543" r="90.4" fill="none" stroke="#231815" stroke-width="1.25"/><circle cx="672.3" cy="543" r="85.7" fill="none" stroke="#231815" stroke-width="1.25"/><circle cx="672.3" cy="543" r="83.8" fill="none" stroke="#231815" stroke-width="1.1"/><circle cx="672.3" cy="543" r="82" fill="none" stroke="#231815" stroke-width="1.1"/><path d="M595.6 602.4L594.6 609C591 613 590.5 622 592.5 627C594 631 597 633 601 633L636 633C645 634.5 652 637.5 660 639.4L660.4 635.7A93.5 93.5 0 0 1 598.4 600.3Z" fill="#fff" stroke="none"/><path d="M596.2 601.6L594.8 609C591 613 590.5 622 592.5 627C594 631 597 633 601 633L636 633C645 634.5 652 637.5 661 639.6" stroke="#231815" stroke-width="1.4" fill="none" stroke-linejoin="round" /><circle cx="603.1" cy="619.5" r="8" fill="#fff" stroke="#231815" stroke-width="3.5"/><circle cx="603.1" cy="619.5" r="4.1" fill="none" stroke="#231815" stroke-width="0.8"/><path d="M592.4 607H582.2C577 607 575.3 613 575.3 619.3C575.3 625.6 577 631.6 582.2 631.6H592.4Z" stroke="#231815" stroke-width="1.3" fill="#fff" stroke-linejoin="round" /><path d="M582.2 607V631.6M587.3 607V631.6" stroke="#231815" stroke-width="1.1" fill="none" stroke-linejoin="round" /><circle cx="752.3" cy="611.7" r="3.6" fill="#fff" stroke="#231815" stroke-width="1.1"/><path d="M603.6 505.7A78.2 78.2 0 1 0 741 505.7Z" stroke="#231815" stroke-width="1.35" fill="#fff" stroke-linejoin="round" /><path d="M604.6 496.1H659.5Q662.6 496.1 662.3 499Q662 502 658 502H606.5" stroke="#231815" stroke-width="1.3" fill="#fff" stroke-linejoin="round" /><path d="M620 502V505.7M658.4 502L656 505.7" stroke="#231815" stroke-width="1.1" fill="none" stroke-linejoin="round" /><path d="M740.2 496.1H685.2L686.4 498.6Q687.8 502 691 502H738.5" stroke="#231815" stroke-width="1.3" fill="#fff" stroke-linejoin="round" /><path d="M725 502V505.7M691.5 502L693.5 505.7" stroke="#231815" stroke-width="1.1" fill="none" stroke-linejoin="round" /><path d="M682.2 458.6V495.6M682.2 495.4H699.3M699.3 460.6V474C699.3 481 695 485 689 485H682.2" stroke="#231815" stroke-width="1.1" fill="none" stroke-linejoin="round" /><path d="M603.2 507.4H637Q642.4 507.4 642.4 512.8V557.2" stroke="#231815" stroke-width="1.1" fill="none" stroke-linejoin="round" /><path d="M742.6 507.4H707Q701.6 507.4 701.6 512.8V552Q701.6 557.2 707 557.2H745" stroke="#231815" stroke-width="1.1" fill="none" stroke-linejoin="round" /><rect x="642.8" y="557.2" width="76.6" height="31.7" fill="#fff" stroke="#231815" stroke-width="1.4"/><path d="M646.4 560H660.35V586.6H646.4ZM665.55 560H679.5V586.6H665.55ZM661.95 557.2V588.9M684.7 560H698.65V586.6H684.7ZM681.1 557.2V588.9M703.85 560H717.2V586.6H703.85ZM700.25 557.2V588.9" stroke="#231815" stroke-width="1" fill="none" stroke-linejoin="round" /><path d="M645.8 587.6H717.4" stroke="#231815" stroke-width="1.8" fill="none" stroke-linejoin="round" /><circle cx="653.9" cy="573.3" r="6.3" fill="#fff" stroke="#231815" stroke-width="1.3"/><path d="M651 573.3H656.8M653.9 570.4V576.2" stroke="#231815" stroke-width="1.9" fill="none"/><circle cx="673.05" cy="573.3" r="6.3" fill="#fff" stroke="#231815" stroke-width="1.3"/><path d="M670.15 573.3H675.95M673.05 570.4V576.2" stroke="#231815" stroke-width="1.9" fill="none"/><circle cx="692.2" cy="573.3" r="6.3" fill="#fff" stroke="#231815" stroke-width="1.3"/><path d="M689.3 573.3H695.1M692.2 570.4V576.2" stroke="#231815" stroke-width="1.9" fill="none"/><circle cx="711.35" cy="573.3" r="6.3" fill="#fff" stroke="#231815" stroke-width="1.3"/><path d="M708.45 573.3H714.25M711.35 570.4V576.2" stroke="#231815" stroke-width="1.9" fill="none"/><path d="M664 620.6V612.6A8.4 8.4 0 0 1 680.8 612.6V620.4" stroke="#231815" stroke-width="1.3" fill="#fff" stroke-linejoin="round" /><circle cx="672.4" cy="613.3" r="5.8" fill="#fff" stroke="#231815" stroke-width="1.3"/><path d="M669.6 613.3H675.2M672.4 610.5V616.1" stroke="#231815" stroke-width="1.9" fill="none"/><text x="642.4" y="598.9" font-size="8.3" font-weight="400" fill="#231815" style='font-family:"Liberation Serif","DejaVu Serif",serif' >COM</text><text x="669.6" y="598.9" font-size="8.3" font-weight="400" fill="#231815" style='font-family:"Liberation Serif","DejaVu Serif",serif' >I+</text><text x="687.4" y="598.9" font-size="8.3" font-weight="400" fill="#231815" style='font-family:"Liberation Serif","DejaVu Serif",serif' >L2</text><text x="704.2" y="598.9" font-size="8.3" font-weight="400" fill="#231815" style='font-family:"Liberation Serif","DejaVu Serif",serif' >L1</text><use href="#pt"/><use href="#pt" transform="translate(114 -117.8)"/><path d="M470 212.5L987.6 222.9L1006.6 254.8" stroke="#8f0680" stroke-width="2.8" fill="none" stroke-linejoin="miter"/><path d="M470 247L975.3 229L989.6 254.8" stroke="#181b83" stroke-width="2.8" fill="none" stroke-linejoin="miter"/><path d="M470 280.8L964.7 238.7L974.3 254.8" stroke="#181b83" stroke-width="2.8" fill="none" stroke-linejoin="miter"/><path d="M470 313.8L873.8 341.5L892.6 372.6" stroke="#8f0680" stroke-width="2.8" fill="none" stroke-linejoin="miter"/><path d="M470 348L861.5 347.2L875.6 372.6" stroke="#181b83" stroke-width="2.8" fill="none" stroke-linejoin="miter"/><path d="M470 382L850.6 356.9L860.3 372.6" stroke="#181b83" stroke-width="2.8" fill="none" stroke-linejoin="miter"/><path d="M470 415.5L536.3 415.5L536.3 473.9L671.9 473.9L671.9 571" stroke="#e4007f" stroke-width="3" fill="none" stroke-linejoin="miter"/><path d="M470 485L653.5 485L653.5 571" stroke="#00a0e9" stroke-width="3.2" fill="none" stroke-linejoin="miter"/><path d="M825 473.5L689.9 473.5L689.9 571" stroke="#231815" stroke-width="3.4" fill="none" stroke-linejoin="miter"/><path d="M825 486.7L709.3 486.7L709.3 571" stroke="#e60012" stroke-width="3.6" fill="none" stroke-linejoin="miter"/><path d="M50 450L127.5 450" stroke="#e60012" stroke-width="3.7" fill="none" stroke-linejoin="miter"/><path d="M50 484.2L127.5 484.2" stroke="#231815" stroke-width="3.3" fill="none" stroke-linejoin="miter"/><text x="522.4" y="209.6" font-size="18.2" fill="#231815" stroke="#231815" stroke-width="0.22" style='font-family:"Liberation Sans","DejaVu Sans","Noto Sans CJK SC",sans-serif' textLength="7.9" lengthAdjust="spacingAndGlyphs">A</text><text x="522.2" y="240.8" font-size="18.2" fill="#231815" stroke="#231815" stroke-width="0.22" style='font-family:"Liberation Sans","DejaVu Sans","Noto Sans CJK SC",sans-serif' textLength="9.4" lengthAdjust="spacingAndGlyphs">B</text><text x="522.2" y="270.6" font-size="18.2" fill="#231815" stroke="#231815" stroke-width="0.22" style='font-family:"Liberation Sans","DejaVu Sans","Noto Sans CJK SC",sans-serif' textLength="9.4" lengthAdjust="spacingAndGlyphs">B</text><text x="522.4" y="314.5" font-size="18.2" fill="#231815" stroke="#231815" stroke-width="0.22" style='font-family:"Liberation Sans","DejaVu Sans","Noto Sans CJK SC",sans-serif' textLength="7.9" lengthAdjust="spacingAndGlyphs">A</text><text x="522.2" y="343.8" font-size="18.2" fill="#231815" stroke="#231815" stroke-width="0.22" style='font-family:"Liberation Sans","DejaVu Sans","Noto Sans CJK SC",sans-serif' textLength="9.4" lengthAdjust="spacingAndGlyphs">B</text><text x="522.2" y="373.8" font-size="18.2" fill="#231815" stroke="#231815" stroke-width="0.22" style='font-family:"Liberation Sans","DejaVu Sans","Noto Sans CJK SC",sans-serif' textLength="9.4" lengthAdjust="spacingAndGlyphs">B</text><text x="908.3" y="158.8" font-size="18.3" fill="#231815" style='font-family:"Liberation Sans","Noto Sans CJK SC",sans-serif'>三线制</text><text x="972.6" y="158.8" font-size="17.7" fill="#231815" stroke="#231815" stroke-width="0.22" style='font-family:"Liberation Sans","DejaVu Sans","Noto Sans CJK SC",sans-serif' textLength="48.2" lengthAdjust="spacingAndGlyphs">PT100</text><text x="796" y="279.8" font-size="18.3" fill="#231815" style='font-family:"Liberation Sans","Noto Sans CJK SC",sans-serif'>三线制</text><text x="860.3" y="279.8" font-size="17.7" fill="#231815" stroke="#231815" stroke-width="0.22" style='font-family:"Liberation Sans","DejaVu Sans","Noto Sans CJK SC",sans-serif' textLength="48.2" lengthAdjust="spacingAndGlyphs">PT100</text><text x="618.9" y="431" font-size="18.7" font-weight="500" fill="#231815" style='font-family:"Liberation Sans","Noto Sans CJK SC",sans-serif' >电磁流量计</text><text x="805.8" y="462.8" font-size="19.3" fill="#231815" stroke="#231815" stroke-width="0.22" style='font-family:"Liberation Sans","DejaVu Sans","Noto Sans CJK SC",sans-serif' textLength="12.1" lengthAdjust="spacingAndGlyphs">N</text><text x="809.4" y="510" font-size="19.3" fill="#231815" stroke="#231815" stroke-width="0.22" style='font-family:"Liberation Sans","DejaVu Sans","Noto Sans CJK SC",sans-serif' textLength="9.8" lengthAdjust="spacingAndGlyphs">L</text><text x="35.3" y="453.1" font-size="21.3" fill="#231815" stroke="#231815" stroke-width="0.22" style='font-family:"Liberation Sans","DejaVu Sans","Noto Sans CJK SC",sans-serif' textLength="10.4" lengthAdjust="spacingAndGlyphs">L</text><text x="33.7" y="490.9" font-size="21.3" fill="#231815" stroke="#231815" stroke-width="0.22" style='font-family:"Liberation Sans","DejaVu Sans","Noto Sans CJK SC",sans-serif' textLength="12.6" lengthAdjust="spacingAndGlyphs">N</text><path d="M115.7 515.2L127.4 515.2M443.4 515.2L455.1 515.2M151.97 515.2L175.97 515.2M200.54 515.2L224.54 515.2M249.11 515.2L273.11 515.2M297.69 515.2L321.69 515.2M346.26 515.2L370.26 515.2M394.83 515.2L418.83 515.2M115.7 783.8L127.4 783.8M443.4 783.8L455.1 783.8M151.97 783.8L175.97 783.8M200.54 783.8L224.54 783.8M249.11 783.8L273.11 783.8M297.69 783.8L321.69 783.8M346.26 783.8L370.26 783.8M394.83 783.8L418.83 783.8M116.4 515.2L116.4 526.2M116.4 772.8L116.4 783.8M116.4 549.22L116.4 570.92M116.4 593.93L116.4 615.63M116.4 638.65L116.4 660.35M116.4 683.37L116.4 705.07M116.4 728.08L116.4 749.78M454.4 515.2L454.4 526.2M454.4 772.8L454.4 783.8M454.4 549.22L454.4 570.92M454.4 593.93L454.4 615.63M454.4 638.65L454.4 660.35M454.4 683.37L454.4 705.07M454.4 728.08L454.4 749.78" stroke="#898989" stroke-width="1.4" fill="none"/><text x="147" y="544.7" font-size="18.8" font-weight="400" fill="#231815" style='font-family:"Liberation Sans","Noto Sans CJK SC",sans-serif' >出口温度输入</text><text x="298.6" y="544.7" font-size="18.8" font-weight="400" fill="#231815" style='font-family:"Liberation Sans","Noto Sans CJK SC",sans-serif' >入口温度输入</text><text x="145.3" y="690.7" font-size="18.8" font-weight="400" fill="#231815" style='font-family:"Liberation Sans","Noto Sans CJK SC",sans-serif' >流量输入</text><text x="302.8" y="690.7" font-size="18.8" font-weight="400" fill="#231815" style='font-family:"Liberation Sans","Noto Sans CJK SC",sans-serif' >工作电源</text><path d="M145 555.8L204.7 555.8" stroke="#231815" stroke-width="1.5" fill="none" /><path d="M145 584.4L204.7 584.4" stroke="#231815" stroke-width="1.5" fill="none" /><path d="M167.98 555.8L167.98 584.4" stroke="#231815" stroke-width="1.5" fill="none" /><path d="M175.15 555.8L175.15 584.4" stroke="#231815" stroke-width="1.5" fill="none" /><path d="M204.7 555.05L204.7 585.15" stroke="#231815" stroke-width="1.5" fill="none" /><ellipse cx="189.92" cy="570.1" rx="14.2" ry="14.2" fill="none" stroke="#231815" stroke-width="1.5"/><path d="M175.15 568.45L188.27 568.45L188.27 555.8M175.15 571.75L188.27 571.75L188.27 584.4M204.7 568.45L191.57 568.45L191.57 555.8M204.7 571.75L191.57 571.75L191.57 584.4" stroke="#231815" stroke-width="1.5" fill="none"/><text x="155.09" y="575.86" font-size="16" font-weight="700" fill="#231815" style='font-family:"Liberation Sans","Noto Sans CJK SC",sans-serif' text-anchor="middle" textLength="16.64" lengthAdjust="spacingAndGlyphs" >16</text><path d="M145 589.6L204.7 589.6" stroke="#231815" stroke-width="1.5" fill="none" /><path d="M145 618.2L204.7 618.2" stroke="#231815" stroke-width="1.5" fill="none" /><path d="M167.98 589.6L167.98 618.2" stroke="#231815" stroke-width="1.5" fill="none" /><path d="M175.15 589.6L175.15 618.2" stroke="#231815" stroke-width="1.5" fill="none" /><path d="M204.7 588.85L204.7 618.95" stroke="#231815" stroke-width="1.5" fill="none" /><ellipse cx="189.92" cy="603.9" rx="14.2" ry="14.2" fill="none" stroke="#231815" stroke-width="1.5"/><path d="M175.15 602.25L188.27 602.25L188.27 589.6M175.15 605.55L188.27 605.55L188.27 618.2M204.7 602.25L191.57 602.25L191.57 589.6M204.7 605.55L191.57 605.55L191.57 618.2" stroke="#231815" stroke-width="1.5" fill="none"/><text x="155.09" y="609.66" font-size="16" font-weight="700" fill="#231815" style='font-family:"Liberation Sans","Noto Sans CJK SC",sans-serif' text-anchor="middle" textLength="16.64" lengthAdjust="spacingAndGlyphs" >17</text><path d="M145 624.3L204.7 624.3" stroke="#231815" stroke-width="1.5" fill="none" /><path d="M145 652.9L204.7 652.9" stroke="#231815" stroke-width="1.5" fill="none" /><path d="M167.98 624.3L167.98 652.9" stroke="#231815" stroke-width="1.5" fill="none" /><path d="M175.15 624.3L175.15 652.9" stroke="#231815" stroke-width="1.5" fill="none" /><path d="M204.7 623.55L204.7 653.65" stroke="#231815" stroke-width="1.5" fill="none" /><ellipse cx="189.92" cy="638.6" rx="14.2" ry="14.2" fill="none" stroke="#231815" stroke-width="1.5"/><path d="M175.15 636.95L188.27 636.95L188.27 624.3M175.15 640.25L188.27 640.25L188.27 652.9M204.7 636.95L191.57 636.95L191.57 624.3M204.7 640.25L191.57 640.25L191.57 652.9" stroke="#231815" stroke-width="1.5" fill="none"/><text x="155.09" y="644.36" font-size="16" font-weight="700" fill="#231815" style='font-family:"Liberation Sans","Noto Sans CJK SC",sans-serif' text-anchor="middle" textLength="16.64" lengthAdjust="spacingAndGlyphs" >18</text><path d="M204.7 569.6L223.5 569.6L223.5 575.1" stroke="#231815" stroke-width="1.4" fill="none" /><rect x="219.4" y="575.1" width="8.2" height="25" fill="#fff" stroke="#231815" stroke-width="1.4"/><path d="M223.5 600.1L223.5 638.4L204.7 638.4" stroke="#231815" stroke-width="1.4" fill="none" /><path d="M204.7 603.8L214.1 603.8L214.1 621.1L223.5 621.1" stroke="#231815" stroke-width="1.4" fill="none" /><text x="229.3" y="606.2" font-size="15.2" fill="#231815" stroke="#231815" stroke-width="0.22" style='font-family:"Liberation Sans","DejaVu Sans","Noto Sans CJK SC",sans-serif' textLength="26.8" lengthAdjust="spacingAndGlyphs">RTD</text><path d="M297 555.8L356.7 555.8" stroke="#231815" stroke-width="1.5" fill="none" /><path d="M297 584.4L356.7 584.4" stroke="#231815" stroke-width="1.5" fill="none" /><path d="M319.98 555.8L319.98 584.4" stroke="#231815" stroke-width="1.5" fill="none" /><path d="M327.15 555.8L327.15 584.4" stroke="#231815" stroke-width="1.5" fill="none" /><path d="M356.7 555.05L356.7 585.15" stroke="#231815" stroke-width="1.5" fill="none" /><ellipse cx="341.92" cy="570.1" rx="14.2" ry="14.2" fill="none" stroke="#231815" stroke-width="1.5"/><path d="M327.15 568.45L340.27 568.45L340.27 555.8M327.15 571.75L340.27 571.75L340.27 584.4M356.7 568.45L343.57 568.45L343.57 555.8M356.7 571.75L343.57 571.75L343.57 584.4" stroke="#231815" stroke-width="1.5" fill="none"/><text x="307.09" y="575.86" font-size="16" font-weight="700" fill="#231815" style='font-family:"Liberation Sans","Noto Sans CJK SC",sans-serif' text-anchor="middle" textLength="16.64" lengthAdjust="spacingAndGlyphs" >19</text><path d="M297 589.6L356.7 589.6" stroke="#231815" stroke-width="1.5" fill="none" /><path d="M297 618.2L356.7 618.2" stroke="#231815" stroke-width="1.5" fill="none" /><path d="M319.98 589.6L319.98 618.2" stroke="#231815" stroke-width="1.5" fill="none" /><path d="M327.15 589.6L327.15 618.2" stroke="#231815" stroke-width="1.5" fill="none" /><path d="M356.7 588.85L356.7 618.95" stroke="#231815" stroke-width="1.5" fill="none" /><ellipse cx="341.92" cy="603.9" rx="14.2" ry="14.2" fill="none" stroke="#231815" stroke-width="1.5"/><path d="M327.15 602.25L340.27 602.25L340.27 589.6M327.15 605.55L340.27 605.55L340.27 618.2M356.7 602.25L343.57 602.25L343.57 589.6M356.7 605.55L343.57 605.55L343.57 618.2" stroke="#231815" stroke-width="1.5" fill="none"/><text x="307.09" y="609.66" font-size="16" font-weight="700" fill="#231815" style='font-family:"Liberation Sans","Noto Sans CJK SC",sans-serif' text-anchor="middle" textLength="16.64" lengthAdjust="spacingAndGlyphs" >20</text><path d="M297 624.3L356.7 624.3" stroke="#231815" stroke-width="1.5" fill="none" /><path d="M297 652.9L356.7 652.9" stroke="#231815" stroke-width="1.5" fill="none" /><path d="M319.98 624.3L319.98 652.9" stroke="#231815" stroke-width="1.5" fill="none" /><path d="M327.15 624.3L327.15 652.9" stroke="#231815" stroke-width="1.5" fill="none" /><path d="M356.7 623.55L356.7 653.65" stroke="#231815" stroke-width="1.5" fill="none" /><ellipse cx="341.92" cy="638.6" rx="14.2" ry="14.2" fill="none" stroke="#231815" stroke-width="1.5"/><path d="M327.15 636.95L340.27 636.95L340.27 624.3M327.15 640.25L340.27 640.25L340.27 652.9M356.7 636.95L343.57 636.95L343.57 624.3M356.7 640.25L343.57 640.25L343.57 652.9" stroke="#231815" stroke-width="1.5" fill="none"/><text x="307.09" y="644.36" font-size="16" font-weight="700" fill="#231815" style='font-family:"Liberation Sans","Noto Sans CJK SC",sans-serif' text-anchor="middle" textLength="16.64" lengthAdjust="spacingAndGlyphs" >21</text><path d="M356.7 569.6L375.5 569.6L375.5 575.1" stroke="#231815" stroke-width="1.4" fill="none" /><rect x="371.4" y="575.1" width="8.2" height="25" fill="#fff" stroke="#231815" stroke-width="1.4"/><path d="M375.5 600.1L375.5 638.4L356.7 638.4" stroke="#231815" stroke-width="1.4" fill="none" /><path d="M356.7 603.8L366.1 603.8L366.1 621.1L375.5 621.1" stroke="#231815" stroke-width="1.4" fill="none" /><text x="381.4" y="606.2" font-size="15.2" fill="#231815" stroke="#231815" stroke-width="0.22" style='font-family:"Liberation Sans","DejaVu Sans","Noto Sans CJK SC",sans-serif' textLength="26.8" lengthAdjust="spacingAndGlyphs">RTD</text><path d="M144.2 700.8L203.4 700.8" stroke="#231815" stroke-width="1.5" fill="none" /><path d="M144.2 729.4L203.4 729.4" stroke="#231815" stroke-width="1.5" fill="none" /><path d="M166.99 700.8L166.99 729.4" stroke="#231815" stroke-width="1.5" fill="none" /><path d="M174.1 700.8L174.1 729.4" stroke="#231815" stroke-width="1.5" fill="none" /><path d="M203.4 700.05L203.4 730.15" stroke="#231815" stroke-width="1.5" fill="none" /><ellipse cx="188.75" cy="715.1" rx="14.2" ry="14.2" fill="none" stroke="#231815" stroke-width="1.5"/><path d="M174.1 713.45L187.1 713.45L187.1 700.8M174.1 716.75L187.1 716.75L187.1 729.4M203.4 713.45L190.4 713.45L190.4 700.8M203.4 716.75L190.4 716.75L190.4 729.4" stroke="#231815" stroke-width="1.5" fill="none"/><text x="154.2" y="720.86" font-size="16" font-weight="700" fill="#231815" style='font-family:"Liberation Sans","Noto Sans CJK SC",sans-serif' text-anchor="middle" textLength="16.64" lengthAdjust="spacingAndGlyphs" >22</text><path d="M144.2 735.2L203.4 735.2" stroke="#231815" stroke-width="1.5" fill="none" /><path d="M144.2 763.8L203.4 763.8" stroke="#231815" stroke-width="1.5" fill="none" /><path d="M166.99 735.2L166.99 763.8" stroke="#231815" stroke-width="1.5" fill="none" /><path d="M174.1 735.2L174.1 763.8" stroke="#231815" stroke-width="1.5" fill="none" /><path d="M203.4 734.45L203.4 764.55" stroke="#231815" stroke-width="1.5" fill="none" /><ellipse cx="188.75" cy="749.5" rx="14.2" ry="14.2" fill="none" stroke="#231815" stroke-width="1.5"/><path d="M174.1 747.85L187.1 747.85L187.1 735.2M174.1 751.15L187.1 751.15L187.1 763.8M203.4 747.85L190.4 747.85L190.4 735.2M203.4 751.15L190.4 751.15L190.4 763.8" stroke="#231815" stroke-width="1.5" fill="none"/><text x="154.2" y="755.26" font-size="16" font-weight="700" fill="#231815" style='font-family:"Liberation Sans","Noto Sans CJK SC",sans-serif' text-anchor="middle" textLength="16.64" lengthAdjust="spacingAndGlyphs" >24</text><path d="M203.4 715.2L233.6 715.2" stroke="#231815" stroke-width="1.4" fill="none" /><circle cx="236.6" cy="715.2" r="2.9" fill="#fff" stroke="#231815" stroke-width="1.4"/><path d="M203.4 747.9L233.6 747.9" stroke="#231815" stroke-width="1.4" fill="none" /><circle cx="236.6" cy="747.9" r="2.9" fill="#fff" stroke="#231815" stroke-width="1.4"/><text x="208.9" y="714.6" font-size="21" font-weight="400" fill="#231815" style='font-family:"Liberation Sans","Noto Sans CJK SC",sans-serif' >+</text><text x="209.4" y="767.1" font-size="21" font-weight="400" fill="#231815" style='font-family:"Liberation Sans","Noto Sans CJK SC",sans-serif' >−</text><text x="213.8" y="735.8" font-size="18.4" fill="#231815" stroke="#231815" stroke-width="0.22" style='font-family:"Liberation Sans","DejaVu Sans","Noto Sans CJK SC",sans-serif' textLength="38.8" lengthAdjust="spacingAndGlyphs">mAin</text><path d="M305 704.7L362.5 704.7" stroke="#231815" stroke-width="1.5" fill="none" /><path d="M305 732.5L362.5 732.5" stroke="#231815" stroke-width="1.5" fill="none" /><path d="M327.14 704.7L327.14 732.5" stroke="#231815" stroke-width="1.5" fill="none" /><path d="M334.04 704.7L334.04 732.5" stroke="#231815" stroke-width="1.5" fill="none" /><path d="M362.5 703.95L362.5 733.25" stroke="#231815" stroke-width="1.5" fill="none" /><ellipse cx="348.27" cy="718.6" rx="13.8" ry="13.8" fill="none" stroke="#231815" stroke-width="1.5"/><path d="M334.04 716.95L346.62 716.95L346.62 704.7M334.04 720.25L346.62 720.25L346.62 732.5M362.5 716.95L349.92 716.95L349.92 704.7M362.5 720.25L349.92 720.25L349.92 732.5" stroke="#231815" stroke-width="1.5" fill="none"/><text x="314.67" y="722.92" font-size="12" font-weight="700" fill="#231815" style='font-family:"Liberation Sans","Noto Sans CJK SC",sans-serif' text-anchor="middle" textLength="12.48" lengthAdjust="spacingAndGlyphs" >11</text><path d="M305 738.1L362.5 738.1" stroke="#231815" stroke-width="1.5" fill="none" /><path d="M305 765.9L362.5 765.9" stroke="#231815" stroke-width="1.5" fill="none" /><path d="M327.14 738.1L327.14 765.9" stroke="#231815" stroke-width="1.5" fill="none" /><path d="M334.04 738.1L334.04 765.9" stroke="#231815" stroke-width="1.5" fill="none" /><path d="M362.5 737.35L362.5 766.65" stroke="#231815" stroke-width="1.5" fill="none" /><ellipse cx="348.27" cy="752" rx="13.8" ry="13.8" fill="none" stroke="#231815" stroke-width="1.5"/><path d="M334.04 750.35L346.62 750.35L346.62 738.1M334.04 753.65L346.62 753.65L346.62 765.9M362.5 750.35L349.92 750.35L349.92 738.1M362.5 753.65L349.92 753.65L349.92 765.9" stroke="#231815" stroke-width="1.5" fill="none"/><text x="314.67" y="756.32" font-size="12" font-weight="700" fill="#231815" style='font-family:"Liberation Sans","Noto Sans CJK SC",sans-serif' text-anchor="middle" textLength="12.48" lengthAdjust="spacingAndGlyphs" >12</text><path d="M362.5 719.9L392 719.9" stroke="#231815" stroke-width="1.4" fill="none" /><circle cx="395" cy="719.9" r="2.9" fill="#fff" stroke="#231815" stroke-width="1.4"/><path d="M362.5 752.5L392 752.5" stroke="#231815" stroke-width="1.4" fill="none" /><circle cx="395" cy="752.5" r="2.9" fill="#fff" stroke="#231815" stroke-width="1.4"/><text x="372.8" y="715" font-size="15.7" fill="#231815" stroke="#231815" stroke-width="0.22" style='font-family:"Liberation Sans","DejaVu Sans","Noto Sans CJK SC",sans-serif' textLength="8.7" lengthAdjust="spacingAndGlyphs">L</text><text x="375.6" y="770.2" font-size="15.7" fill="#231815" stroke="#231815" stroke-width="0.22" style='font-family:"Liberation Sans","DejaVu Sans","Noto Sans CJK SC",sans-serif' textLength="10.1" lengthAdjust="spacingAndGlyphs">N</text><path d="M0 825.7H5.75M31.3 825.7H57.2M82.75 825.7H108.65M134.2 825.7H160.1M185.65 825.7H211.55M237.1 825.7H263M288.55 825.7H314.45M340 825.7H365.9M391.45 825.7H417.35M442.9 825.7H468.8M494.35 825.7H520.25M545.8 825.7H571.7M597.25 825.7H623.15M648.7 825.7H674.6M700.15 825.7H726.05M751.6 825.7H777.5M803.05 825.7H828.95M854.5 825.7H880.4M905.95 825.7H931.85M957.4 825.7H983.3M1008.85 825.7H1034.75M1060.3 825.7H1072.8" stroke="#6b6b6b" stroke-width="2.1" fill="none"/><circle cx="35.8" cy="879.6" r="6.2" fill="#d7000f"/><text x="58.4" y="892.7" font-size="33" font-weight="400" fill="#000" style='font-family:"Liberation Sans","Noto Sans CJK SC",sans-serif' >涡街流量计接线图</text><text x="55.6" y="947.6" font-size="27.04" font-weight="500" fill="#000" style='font-family:"Liberation Sans","Noto Sans CJK SC",sans-serif' >此电路为简易示意图，不含电气保护，具体布线请在专业电工指导下进行；</text><g transform="translate(78.1 1112.8) scale(0.978)"><rect x="0" y="0" width="421" height="409.6" fill="none" stroke="#231815" stroke-width="1.8"/><rect x="0" y="3.7" width="60.2" height="28.7" fill="none" stroke="#231815" stroke-width="1.7"/><path d="M21.7 3.7L21.7 32.4" stroke="#231815" stroke-width="1.7" fill="none" /><path d="M30 3.7L30 32.4" stroke="#231815" stroke-width="1.7" fill="none" /><ellipse cx="45.1" cy="18.05" rx="14.8" ry="14.2" fill="none" stroke="#231815" stroke-width="1.5"/><path d="M30 16.4L43.45 16.4L43.45 3.7M30 19.7L43.45 19.7L43.45 32.4M60.2 16.4L46.75 16.4L46.75 3.7M60.2 19.7L46.75 19.7L46.75 32.4" stroke="#231815" stroke-width="1.6" fill="none"/><text x="10.8" y="24.7" font-size="18.8" font-weight="700" fill="#231815" style='font-family:"Liberation Sans","Noto Sans CJK SC",sans-serif' text-anchor="middle" stroke="#231815" stroke-width="0.3">1</text><path d="M295.7 3.7L421 3.7" stroke="#231815" stroke-width="1.7" fill="none" /><path d="M295.7 32.4L421 32.4" stroke="#231815" stroke-width="1.7" fill="none" /><path d="M318.7 3.7L318.7 32.4" stroke="#231815" stroke-width="1.7" fill="none" /><rect x="326.1" y="3.7" width="30.4" height="28.7" fill="none" stroke="#231815" stroke-width="1.7"/><rect x="361" y="3.7" width="29.7" height="28.7" fill="none" stroke="#231815" stroke-width="1.7"/><path d="M398.4 3.7L398.4 32.4" stroke="#231815" stroke-width="1.7" fill="none" /><ellipse cx="341.3" cy="18.05" rx="14.2" ry="14.2" fill="none" stroke="#231815" stroke-width="1.5"/><path d="M326.1 16.4L339.65 16.4L339.65 3.7M326.1 19.7L339.65 19.7L339.65 32.4M356.5 16.4L342.95 16.4L342.95 3.7M356.5 19.7L342.95 19.7L342.95 32.4" stroke="#231815" stroke-width="1.6" fill="none"/><ellipse cx="375.75" cy="18.05" rx="14.1" ry="14.2" fill="none" stroke="#231815" stroke-width="1.5"/><path d="M360.8 16.4L374.1 16.4L374.1 3.7M360.8 19.7L374.1 19.7L374.1 32.4M390.7 16.4L377.4 16.4L377.4 3.7M390.7 19.7L377.4 19.7L377.4 32.4" stroke="#231815" stroke-width="1.6" fill="none"/><text x="299.3" y="24.3" font-size="17.5" font-weight="700" fill="#231815" style='font-family:"Liberation Sans","Noto Sans CJK SC",sans-serif' textLength="16.8" lengthAdjust="spacingAndGlyphs" stroke="#231815" stroke-width="0.3">25</text><text x="400.9" y="23.9" font-size="17.5" font-weight="700" fill="#231815" style='font-family:"Liberation Sans","Noto Sans CJK SC",sans-serif' textLength="15.8" lengthAdjust="spacingAndGlyphs" stroke="#231815" stroke-width="0.3">13</text><rect x="0" y="37.62" width="60.2" height="28.7" fill="none" stroke="#231815" stroke-width="1.7"/><path d="M21.7 37.62L21.7 66.32" stroke="#231815" stroke-width="1.7" fill="none" /><path d="M30 37.62L30 66.32" stroke="#231815" stroke-width="1.7" fill="none" /><ellipse cx="45.1" cy="51.97" rx="14.8" ry="14.2" fill="none" stroke="#231815" stroke-width="1.5"/><path d="M30 50.32L43.45 50.32L43.45 37.62M30 53.62L43.45 53.62L43.45 66.32M60.2 50.32L46.75 50.32L46.75 37.62M60.2 53.62L46.75 53.62L46.75 66.32" stroke="#231815" stroke-width="1.6" fill="none"/><text x="10.8" y="58.62" font-size="18.8" font-weight="700" fill="#231815" style='font-family:"Liberation Sans","Noto Sans CJK SC",sans-serif' text-anchor="middle" stroke="#231815" stroke-width="0.3">2</text><path d="M295.7 37.62L421 37.62" stroke="#231815" stroke-width="1.7" fill="none" /><path d="M295.7 66.32L421 66.32" stroke="#231815" stroke-width="1.7" fill="none" /><path d="M318.7 37.62L318.7 66.32" stroke="#231815" stroke-width="1.7" fill="none" /><rect x="326.1" y="37.62" width="30.4" height="28.7" fill="none" stroke="#231815" stroke-width="1.7"/><rect x="361" y="37.62" width="29.7" height="28.7" fill="none" stroke="#231815" stroke-width="1.7"/><path d="M398.4 37.62L398.4 66.32" stroke="#231815" stroke-width="1.7" fill="none" /><ellipse cx="341.3" cy="51.97" rx="14.2" ry="14.2" fill="none" stroke="#231815" stroke-width="1.5"/><path d="M326.1 50.32L339.65 50.32L339.65 37.62M326.1 53.62L339.65 53.62L339.65 66.32M356.5 50.32L342.95 50.32L342.95 37.62M356.5 53.62L342.95 53.62L342.95 66.32" stroke="#231815" stroke-width="1.6" fill="none"/><ellipse cx="375.75" cy="51.97" rx="14.1" ry="14.2" fill="none" stroke="#231815" stroke-width="1.5"/><path d="M360.8 50.32L374.1 50.32L374.1 37.62M360.8 53.62L374.1 53.62L374.1 66.32M390.7 50.32L377.4 50.32L377.4 37.62M390.7 53.62L377.4 53.62L377.4 66.32" stroke="#231815" stroke-width="1.6" fill="none"/><text x="299.3" y="58.22" font-size="17.5" font-weight="700" fill="#231815" style='font-family:"Liberation Sans","Noto Sans CJK SC",sans-serif' textLength="16.8" lengthAdjust="spacingAndGlyphs" stroke="#231815" stroke-width="0.3">26</text><text x="400.9" y="57.82" font-size="17.5" font-weight="700" fill="#231815" style='font-family:"Liberation Sans","Noto Sans CJK SC",sans-serif' textLength="15.8" lengthAdjust="spacingAndGlyphs" stroke="#231815" stroke-width="0.3">14</text><rect x="0" y="71.54" width="60.2" height="28.7" fill="none" stroke="#231815" stroke-width="1.7"/><path d="M21.7 71.54L21.7 100.24" stroke="#231815" stroke-width="1.7" fill="none" /><path d="M30 71.54L30 100.24" stroke="#231815" stroke-width="1.7" fill="none" /><ellipse cx="45.1" cy="85.89" rx="14.8" ry="14.2" fill="none" stroke="#231815" stroke-width="1.5"/><path d="M30 84.24L43.45 84.24L43.45 71.54M30 87.54L43.45 87.54L43.45 100.24M60.2 84.24L46.75 84.24L46.75 71.54M60.2 87.54L46.75 87.54L46.75 100.24" stroke="#231815" stroke-width="1.6" fill="none"/><text x="10.8" y="92.54" font-size="18.8" font-weight="700" fill="#231815" style='font-family:"Liberation Sans","Noto Sans CJK SC",sans-serif' text-anchor="middle" stroke="#231815" stroke-width="0.3">3</text><path d="M295.7 71.54L421 71.54" stroke="#231815" stroke-width="1.7" fill="none" /><path d="M295.7 100.24L421 100.24" stroke="#231815" stroke-width="1.7" fill="none" /><path d="M318.7 71.54L318.7 100.24" stroke="#231815" stroke-width="1.7" fill="none" /><rect x="326.1" y="71.54" width="30.4" height="28.7" fill="none" stroke="#231815" stroke-width="1.7"/><rect x="361" y="71.54" width="29.7" height="28.7" fill="none" stroke="#231815" stroke-width="1.7"/><path d="M398.4 71.54L398.4 100.24" stroke="#231815" stroke-width="1.7" fill="none" /><ellipse cx="341.3" cy="85.89" rx="14.2" ry="14.2" fill="none" stroke="#231815" stroke-width="1.5"/><path d="M326.1 84.24L339.65 84.24L339.65 71.54M326.1 87.54L339.65 87.54L339.65 100.24M356.5 84.24L342.95 84.24L342.95 71.54M356.5 87.54L342.95 87.54L342.95 100.24" stroke="#231815" stroke-width="1.6" fill="none"/><ellipse cx="375.75" cy="85.89" rx="14.1" ry="14.2" fill="none" stroke="#231815" stroke-width="1.5"/><path d="M360.8 84.24L374.1 84.24L374.1 71.54M360.8 87.54L374.1 87.54L374.1 100.24M390.7 84.24L377.4 84.24L377.4 71.54M390.7 87.54L377.4 87.54L377.4 100.24" stroke="#231815" stroke-width="1.6" fill="none"/><text x="299.3" y="92.14" font-size="17.5" font-weight="700" fill="#231815" style='font-family:"Liberation Sans","Noto Sans CJK SC",sans-serif' textLength="16.8" lengthAdjust="spacingAndGlyphs" stroke="#231815" stroke-width="0.3">27</text><text x="400.9" y="91.74" font-size="17.5" font-weight="700" fill="#231815" style='font-family:"Liberation Sans","Noto Sans CJK SC",sans-serif' textLength="15.8" lengthAdjust="spacingAndGlyphs" stroke="#231815" stroke-width="0.3">15</text><rect x="0" y="105.46" width="60.2" height="28.7" fill="none" stroke="#231815" stroke-width="1.7"/><path d="M21.7 105.46L21.7 134.16" stroke="#231815" stroke-width="1.7" fill="none" /><path d="M30 105.46L30 134.16" stroke="#231815" stroke-width="1.7" fill="none" /><ellipse cx="45.1" cy="119.81" rx="14.8" ry="14.2" fill="none" stroke="#231815" stroke-width="1.5"/><path d="M30 118.16L43.45 118.16L43.45 105.46M30 121.46L43.45 121.46L43.45 134.16M60.2 118.16L46.75 118.16L46.75 105.46M60.2 121.46L46.75 121.46L46.75 134.16" stroke="#231815" stroke-width="1.6" fill="none"/><text x="10.8" y="126.46" font-size="18.8" font-weight="700" fill="#231815" style='font-family:"Liberation Sans","Noto Sans CJK SC",sans-serif' text-anchor="middle" stroke="#231815" stroke-width="0.3">4</text><path d="M295.7 105.46L421 105.46" stroke="#231815" stroke-width="1.7" fill="none" /><path d="M295.7 134.16L421 134.16" stroke="#231815" stroke-width="1.7" fill="none" /><path d="M318.7 105.46L318.7 134.16" stroke="#231815" stroke-width="1.7" fill="none" /><rect x="326.1" y="105.46" width="30.4" height="28.7" fill="none" stroke="#231815" stroke-width="1.7"/><rect x="361" y="105.46" width="29.7" height="28.7" fill="none" stroke="#231815" stroke-width="1.7"/><path d="M398.4 105.46L398.4 134.16" stroke="#231815" stroke-width="1.7" fill="none" /><ellipse cx="341.3" cy="119.81" rx="14.2" ry="14.2" fill="none" stroke="#231815" stroke-width="1.5"/><path d="M326.1 118.16L339.65 118.16L339.65 105.46M326.1 121.46L339.65 121.46L339.65 134.16M356.5 118.16L342.95 118.16L342.95 105.46M356.5 121.46L342.95 121.46L342.95 134.16" stroke="#231815" stroke-width="1.6" fill="none"/><ellipse cx="375.75" cy="119.81" rx="14.1" ry="14.2" fill="none" stroke="#231815" stroke-width="1.5"/><path d="M360.8 118.16L374.1 118.16L374.1 105.46M360.8 121.46L374.1 121.46L374.1 134.16M390.7 118.16L377.4 118.16L377.4 105.46M390.7 121.46L377.4 121.46L377.4 134.16" stroke="#231815" stroke-width="1.6" fill="none"/><text x="299.3" y="126.06" font-size="17.5" font-weight="700" fill="#231815" style='font-family:"Liberation Sans","Noto Sans CJK SC",sans-serif' textLength="16.8" lengthAdjust="spacingAndGlyphs" stroke="#231815" stroke-width="0.3">28</text><text x="400.9" y="122.26" font-size="17.5" font-weight="700" fill="#231815" style='font-family:"Liberation Sans","Noto Sans CJK SC",sans-serif' textLength="15.8" lengthAdjust="spacingAndGlyphs" stroke="#231815" stroke-width="0.3">16</text><rect x="0" y="139.38" width="60.2" height="28.7" fill="none" stroke="#231815" stroke-width="1.7"/><path d="M21.7 139.38L21.7 168.08" stroke="#231815" stroke-width="1.7" fill="none" /><path d="M30 139.38L30 168.08" stroke="#231815" stroke-width="1.7" fill="none" /><ellipse cx="45.1" cy="153.73" rx="14.8" ry="14.2" fill="none" stroke="#231815" stroke-width="1.5"/><path d="M30 152.08L43.45 152.08L43.45 139.38M30 155.38L43.45 155.38L43.45 168.08M60.2 152.08L46.75 152.08L46.75 139.38M60.2 155.38L46.75 155.38L46.75 168.08" stroke="#231815" stroke-width="1.6" fill="none"/><text x="10.8" y="160.38" font-size="18.8" font-weight="700" fill="#231815" style='font-family:"Liberation Sans","Noto Sans CJK SC",sans-serif' text-anchor="middle" stroke="#231815" stroke-width="0.3">5</text><path d="M295.7 139.38L421 139.38" stroke="#231815" stroke-width="1.7" fill="none" /><path d="M295.7 168.08L421 168.08" stroke="#231815" stroke-width="1.7" fill="none" /><path d="M318.7 139.38L318.7 168.08" stroke="#231815" stroke-width="1.7" fill="none" /><rect x="326.1" y="139.38" width="30.4" height="28.7" fill="none" stroke="#231815" stroke-width="1.7"/><rect x="361" y="139.38" width="29.7" height="28.7" fill="none" stroke="#231815" stroke-width="1.7"/><path d="M398.4 139.38L398.4 168.08" stroke="#231815" stroke-width="1.7" fill="none" /><ellipse cx="341.3" cy="153.73" rx="14.2" ry="14.2" fill="none" stroke="#231815" stroke-width="1.5"/><path d="M326.1 152.08L339.65 152.08L339.65 139.38M326.1 155.38L339.65 155.38L339.65 168.08M356.5 152.08L342.95 152.08L342.95 139.38M356.5 155.38L342.95 155.38L342.95 168.08" stroke="#231815" stroke-width="1.6" fill="none"/><ellipse cx="375.75" cy="153.73" rx="14.1" ry="14.2" fill="none" stroke="#231815" stroke-width="1.5"/><path d="M360.8 152.08L374.1 152.08L374.1 139.38M360.8 155.38L374.1 155.38L374.1 168.08M390.7 152.08L377.4 152.08L377.4 139.38M390.7 155.38L377.4 155.38L377.4 168.08" stroke="#231815" stroke-width="1.6" fill="none"/><text x="299.3" y="159.98" font-size="17.5" font-weight="700" fill="#231815" style='font-family:"Liberation Sans","Noto Sans CJK SC",sans-serif' textLength="16.8" lengthAdjust="spacingAndGlyphs" stroke="#231815" stroke-width="0.3">29</text><text x="400.9" y="156.18" font-size="17.5" font-weight="700" fill="#231815" style='font-family:"Liberation Sans","Noto Sans CJK SC",sans-serif' textLength="15.8" lengthAdjust="spacingAndGlyphs" stroke="#231815" stroke-width="0.3">17</text><rect x="0" y="173.3" width="60.2" height="28.7" fill="none" stroke="#231815" stroke-width="1.7"/><path d="M21.7 173.3L21.7 202" stroke="#231815" stroke-width="1.7" fill="none" /><path d="M30 173.3L30 202" stroke="#231815" stroke-width="1.7" fill="none" /><ellipse cx="45.1" cy="187.65" rx="14.8" ry="14.2" fill="none" stroke="#231815" stroke-width="1.5"/><path d="M30 186L43.45 186L43.45 173.3M30 189.3L43.45 189.3L43.45 202M60.2 186L46.75 186L46.75 173.3M60.2 189.3L46.75 189.3L46.75 202" stroke="#231815" stroke-width="1.6" fill="none"/><text x="10.8" y="194.3" font-size="18.8" font-weight="700" fill="#231815" style='font-family:"Liberation Sans","Noto Sans CJK SC",sans-serif' text-anchor="middle" stroke="#231815" stroke-width="0.3">6</text><path d="M295.7 173.3L421 173.3" stroke="#231815" stroke-width="1.7" fill="none" /><path d="M295.7 202L421 202" stroke="#231815" stroke-width="1.7" fill="none" /><path d="M318.7 173.3L318.7 202" stroke="#231815" stroke-width="1.7" fill="none" /><rect x="326.1" y="173.3" width="30.4" height="28.7" fill="none" stroke="#231815" stroke-width="1.7"/><rect x="361" y="173.3" width="29.7" height="28.7" fill="none" stroke="#231815" stroke-width="1.7"/><path d="M398.4 173.3L398.4 202" stroke="#231815" stroke-width="1.7" fill="none" /><ellipse cx="341.3" cy="187.65" rx="14.2" ry="14.2" fill="none" stroke="#231815" stroke-width="1.5"/><path d="M326.1 186L339.65 186L339.65 173.3M326.1 189.3L339.65 189.3L339.65 202M356.5 186L342.95 186L342.95 173.3M356.5 189.3L342.95 189.3L342.95 202" stroke="#231815" stroke-width="1.6" fill="none"/><ellipse cx="375.75" cy="187.65" rx="14.1" ry="14.2" fill="none" stroke="#231815" stroke-width="1.5"/><path d="M360.8 186L374.1 186L374.1 173.3M360.8 189.3L374.1 189.3L374.1 202M390.7 186L377.4 186L377.4 173.3M390.7 189.3L377.4 189.3L377.4 202" stroke="#231815" stroke-width="1.6" fill="none"/><text x="299.3" y="193.9" font-size="17.5" font-weight="700" fill="#231815" style='font-family:"Liberation Sans","Noto Sans CJK SC",sans-serif' textLength="16.8" lengthAdjust="spacingAndGlyphs" stroke="#231815" stroke-width="0.3">30</text><text x="400.9" y="190.1" font-size="17.5" font-weight="700" fill="#231815" style='font-family:"Liberation Sans","Noto Sans CJK SC",sans-serif' textLength="15.8" lengthAdjust="spacingAndGlyphs" stroke="#231815" stroke-width="0.3">18</text><rect x="0" y="207.22" width="60.2" height="28.7" fill="none" stroke="#231815" stroke-width="1.7"/><path d="M21.7 207.22L21.7 235.92" stroke="#231815" stroke-width="1.7" fill="none" /><path d="M30 207.22L30 235.92" stroke="#231815" stroke-width="1.7" fill="none" /><ellipse cx="45.1" cy="221.57" rx="14.8" ry="14.2" fill="none" stroke="#231815" stroke-width="1.5"/><path d="M30 219.92L43.45 219.92L43.45 207.22M30 223.22L43.45 223.22L43.45 235.92M60.2 219.92L46.75 219.92L46.75 207.22M60.2 223.22L46.75 223.22L46.75 235.92" stroke="#231815" stroke-width="1.6" fill="none"/><text x="10.8" y="228.22" font-size="18.8" font-weight="700" fill="#231815" style='font-family:"Liberation Sans","Noto Sans CJK SC",sans-serif' text-anchor="middle" stroke="#231815" stroke-width="0.3">7</text><path d="M295.7 207.22L421 207.22" stroke="#231815" stroke-width="1.7" fill="none" /><path d="M295.7 235.92L421 235.92" stroke="#231815" stroke-width="1.7" fill="none" /><path d="M318.7 207.22L318.7 235.92" stroke="#231815" stroke-width="1.7" fill="none" /><rect x="326.1" y="207.22" width="30.4" height="28.7" fill="none" stroke="#231815" stroke-width="1.7"/><rect x="361" y="207.22" width="29.7" height="28.7" fill="none" stroke="#231815" stroke-width="1.7"/><path d="M398.4 207.22L398.4 235.92" stroke="#231815" stroke-width="1.7" fill="none" /><ellipse cx="341.3" cy="221.57" rx="14.2" ry="14.2" fill="none" stroke="#231815" stroke-width="1.5"/><path d="M326.1 219.92L339.65 219.92L339.65 207.22M326.1 223.22L339.65 223.22L339.65 235.92M356.5 219.92L342.95 219.92L342.95 207.22M356.5 223.22L342.95 223.22L342.95 235.92" stroke="#231815" stroke-width="1.6" fill="none"/><ellipse cx="375.75" cy="221.57" rx="14.1" ry="14.2" fill="none" stroke="#231815" stroke-width="1.5"/><path d="M360.8 219.92L374.1 219.92L374.1 207.22M360.8 223.22L374.1 223.22L374.1 235.92M390.7 219.92L377.4 219.92L377.4 207.22M390.7 223.22L377.4 223.22L377.4 235.92" stroke="#231815" stroke-width="1.6" fill="none"/><text x="299.3" y="224.02" font-size="17.5" font-weight="700" fill="#231815" style='font-family:"Liberation Sans","Noto Sans CJK SC",sans-serif' textLength="16.8" lengthAdjust="spacingAndGlyphs" stroke="#231815" stroke-width="0.3">31</text><text x="400.9" y="224.02" font-size="17.5" font-weight="700" fill="#231815" style='font-family:"Liberation Sans","Noto Sans CJK SC",sans-serif' textLength="15.8" lengthAdjust="spacingAndGlyphs" stroke="#231815" stroke-width="0.3">19</text><rect x="0" y="241.14" width="60.2" height="28.7" fill="none" stroke="#231815" stroke-width="1.7"/><path d="M21.7 241.14L21.7 269.84" stroke="#231815" stroke-width="1.7" fill="none" /><path d="M30 241.14L30 269.84" stroke="#231815" stroke-width="1.7" fill="none" /><ellipse cx="45.1" cy="255.49" rx="14.8" ry="14.2" fill="none" stroke="#231815" stroke-width="1.5"/><path d="M30 253.84L43.45 253.84L43.45 241.14M30 257.14L43.45 257.14L43.45 269.84M60.2 253.84L46.75 253.84L46.75 241.14M60.2 257.14L46.75 257.14L46.75 269.84" stroke="#231815" stroke-width="1.6" fill="none"/><text x="10.8" y="262.14" font-size="18.8" font-weight="700" fill="#231815" style='font-family:"Liberation Sans","Noto Sans CJK SC",sans-serif' text-anchor="middle" stroke="#231815" stroke-width="0.3">8</text><path d="M295.7 241.14L421 241.14" stroke="#231815" stroke-width="1.7" fill="none" /><path d="M295.7 269.84L421 269.84" stroke="#231815" stroke-width="1.7" fill="none" /><path d="M318.7 241.14L318.7 269.84" stroke="#231815" stroke-width="1.7" fill="none" /><rect x="326.1" y="241.14" width="30.4" height="28.7" fill="none" stroke="#231815" stroke-width="1.7"/><rect x="361" y="241.14" width="29.7" height="28.7" fill="none" stroke="#231815" stroke-width="1.7"/><path d="M398.4 241.14L398.4 269.84" stroke="#231815" stroke-width="1.7" fill="none" /><ellipse cx="341.3" cy="255.49" rx="14.2" ry="14.2" fill="none" stroke="#231815" stroke-width="1.5"/><path d="M326.1 253.84L339.65 253.84L339.65 241.14M326.1 257.14L339.65 257.14L339.65 269.84M356.5 253.84L342.95 253.84L342.95 241.14M356.5 257.14L342.95 257.14L342.95 269.84" stroke="#231815" stroke-width="1.6" fill="none"/><ellipse cx="375.75" cy="255.49" rx="14.1" ry="14.2" fill="none" stroke="#231815" stroke-width="1.5"/><path d="M360.8 253.84L374.1 253.84L374.1 241.14M360.8 257.14L374.1 257.14L374.1 269.84M390.7 253.84L377.4 253.84L377.4 241.14M390.7 257.14L377.4 257.14L377.4 269.84" stroke="#231815" stroke-width="1.6" fill="none"/><text x="299.3" y="257.94" font-size="17.5" font-weight="700" fill="#231815" style='font-family:"Liberation Sans","Noto Sans CJK SC",sans-serif' textLength="16.8" lengthAdjust="spacingAndGlyphs" stroke="#231815" stroke-width="0.3">32</text><text x="400.9" y="257.94" font-size="17.5" font-weight="700" fill="#231815" style='font-family:"Liberation Sans","Noto Sans CJK SC",sans-serif' textLength="15.8" lengthAdjust="spacingAndGlyphs" stroke="#231815" stroke-width="0.3">20</text><rect x="0" y="275.06" width="60.2" height="28.7" fill="none" stroke="#231815" stroke-width="1.7"/><path d="M21.7 275.06L21.7 303.76" stroke="#231815" stroke-width="1.7" fill="none" /><path d="M30 275.06L30 303.76" stroke="#231815" stroke-width="1.7" fill="none" /><ellipse cx="45.1" cy="289.41" rx="14.8" ry="14.2" fill="none" stroke="#231815" stroke-width="1.5"/><path d="M30 287.76L43.45 287.76L43.45 275.06M30 291.06L43.45 291.06L43.45 303.76M60.2 287.76L46.75 287.76L46.75 275.06M60.2 291.06L46.75 291.06L46.75 303.76" stroke="#231815" stroke-width="1.6" fill="none"/><text x="10.8" y="296.06" font-size="18.8" font-weight="700" fill="#231815" style='font-family:"Liberation Sans","Noto Sans CJK SC",sans-serif' text-anchor="middle" stroke="#231815" stroke-width="0.3">9</text><path d="M295.7 275.06L421 275.06" stroke="#231815" stroke-width="1.7" fill="none" /><path d="M295.7 303.76L421 303.76" stroke="#231815" stroke-width="1.7" fill="none" /><path d="M318.7 275.06L318.7 303.76" stroke="#231815" stroke-width="1.7" fill="none" /><rect x="326.1" y="275.06" width="30.4" height="28.7" fill="none" stroke="#231815" stroke-width="1.7"/><rect x="361" y="275.06" width="29.7" height="28.7" fill="none" stroke="#231815" stroke-width="1.7"/><path d="M398.4 275.06L398.4 303.76" stroke="#231815" stroke-width="1.7" fill="none" /><ellipse cx="341.3" cy="289.41" rx="14.2" ry="14.2" fill="none" stroke="#231815" stroke-width="1.5"/><path d="M326.1 287.76L339.65 287.76L339.65 275.06M326.1 291.06L339.65 291.06L339.65 303.76M356.5 287.76L342.95 287.76L342.95 275.06M356.5 291.06L342.95 291.06L342.95 303.76" stroke="#231815" stroke-width="1.6" fill="none"/><ellipse cx="375.75" cy="289.41" rx="14.1" ry="14.2" fill="none" stroke="#231815" stroke-width="1.5"/><path d="M360.8 287.76L374.1 287.76L374.1 275.06M360.8 291.06L374.1 291.06L374.1 303.76M390.7 287.76L377.4 287.76L377.4 275.06M390.7 291.06L377.4 291.06L377.4 303.76" stroke="#231815" stroke-width="1.6" fill="none"/><text x="299.3" y="295.66" font-size="17.5" font-weight="700" fill="#231815" style='font-family:"Liberation Sans","Noto Sans CJK SC",sans-serif' textLength="16.8" lengthAdjust="spacingAndGlyphs" stroke="#231815" stroke-width="0.3">33</text><text x="400.9" y="291.86" font-size="17.5" font-weight="700" fill="#231815" style='font-family:"Liberation Sans","Noto Sans CJK SC",sans-serif' textLength="15.8" lengthAdjust="spacingAndGlyphs" stroke="#231815" stroke-width="0.3">21</text><rect x="0" y="308.98" width="60.2" height="28.7" fill="none" stroke="#231815" stroke-width="1.7"/><path d="M21.7 308.98L21.7 337.68" stroke="#231815" stroke-width="1.7" fill="none" /><path d="M30 308.98L30 337.68" stroke="#231815" stroke-width="1.7" fill="none" /><ellipse cx="45.1" cy="323.33" rx="14.8" ry="14.2" fill="none" stroke="#231815" stroke-width="1.5"/><path d="M30 321.68L43.45 321.68L43.45 308.98M30 324.98L43.45 324.98L43.45 337.68M60.2 321.68L46.75 321.68L46.75 308.98M60.2 324.98L46.75 324.98L46.75 337.68" stroke="#231815" stroke-width="1.6" fill="none"/><text x="3" y="329.98" font-size="19" font-weight="700" fill="#231815" style='font-family:"Liberation Sans","Noto Sans CJK SC",sans-serif' textLength="16.2" lengthAdjust="spacingAndGlyphs" stroke="#231815" stroke-width="0.3">10</text><path d="M295.7 308.98L421 308.98" stroke="#231815" stroke-width="1.7" fill="none" /><path d="M295.7 337.68L421 337.68" stroke="#231815" stroke-width="1.7" fill="none" /><path d="M318.7 308.98L318.7 337.68" stroke="#231815" stroke-width="1.7" fill="none" /><rect x="326.1" y="308.98" width="30.4" height="28.7" fill="none" stroke="#231815" stroke-width="1.7"/><rect x="361" y="308.98" width="29.7" height="28.7" fill="none" stroke="#231815" stroke-width="1.7"/><path d="M398.4 308.98L398.4 337.68" stroke="#231815" stroke-width="1.7" fill="none" /><ellipse cx="341.3" cy="323.33" rx="14.2" ry="14.2" fill="none" stroke="#231815" stroke-width="1.5"/><path d="M326.1 321.68L339.65 321.68L339.65 308.98M326.1 324.98L339.65 324.98L339.65 337.68M356.5 321.68L342.95 321.68L342.95 308.98M356.5 324.98L342.95 324.98L342.95 337.68" stroke="#231815" stroke-width="1.6" fill="none"/><ellipse cx="375.75" cy="323.33" rx="14.1" ry="14.2" fill="none" stroke="#231815" stroke-width="1.5"/><path d="M360.8 321.68L374.1 321.68L374.1 308.98M360.8 324.98L374.1 324.98L374.1 337.68M390.7 321.68L377.4 321.68L377.4 308.98M390.7 324.98L377.4 324.98L377.4 337.68" stroke="#231815" stroke-width="1.6" fill="none"/><text x="299.3" y="329.58" font-size="17.5" font-weight="700" fill="#231815" style='font-family:"Liberation Sans","Noto Sans CJK SC",sans-serif' textLength="16.8" lengthAdjust="spacingAndGlyphs" stroke="#231815" stroke-width="0.3">34</text><text x="400.9" y="329.18" font-size="17.5" font-weight="700" fill="#231815" style='font-family:"Liberation Sans","Noto Sans CJK SC",sans-serif' textLength="15.8" lengthAdjust="spacingAndGlyphs" stroke="#231815" stroke-width="0.3">22</text><rect x="0" y="342.9" width="60.2" height="28.7" fill="none" stroke="#231815" stroke-width="1.7"/><path d="M21.7 342.9L21.7 371.6" stroke="#231815" stroke-width="1.7" fill="none" /><path d="M30 342.9L30 371.6" stroke="#231815" stroke-width="1.7" fill="none" /><ellipse cx="45.1" cy="357.25" rx="14.8" ry="14.2" fill="none" stroke="#231815" stroke-width="1.5"/><path d="M30 355.6L43.45 355.6L43.45 342.9M30 358.9L43.45 358.9L43.45 371.6M60.2 355.6L46.75 355.6L46.75 342.9M60.2 358.9L46.75 358.9L46.75 371.6" stroke="#231815" stroke-width="1.6" fill="none"/><text x="3" y="360.2" font-size="19" font-weight="700" fill="#231815" style='font-family:"Liberation Sans","Noto Sans CJK SC",sans-serif' textLength="16.2" lengthAdjust="spacingAndGlyphs" stroke="#231815" stroke-width="0.3">11</text><path d="M295.7 342.9L421 342.9" stroke="#231815" stroke-width="1.7" fill="none" /><path d="M295.7 371.6L421 371.6" stroke="#231815" stroke-width="1.7" fill="none" /><path d="M318.7 342.9L318.7 371.6" stroke="#231815" stroke-width="1.7" fill="none" /><rect x="326.1" y="342.9" width="30.4" height="28.7" fill="none" stroke="#231815" stroke-width="1.7"/><rect x="361" y="342.9" width="29.7" height="28.7" fill="none" stroke="#231815" stroke-width="1.7"/><path d="M398.4 342.9L398.4 371.6" stroke="#231815" stroke-width="1.7" fill="none" /><ellipse cx="341.3" cy="357.25" rx="14.2" ry="14.2" fill="none" stroke="#231815" stroke-width="1.5"/><path d="M326.1 355.6L339.65 355.6L339.65 342.9M326.1 358.9L339.65 358.9L339.65 371.6M356.5 355.6L342.95 355.6L342.95 342.9M356.5 358.9L342.95 358.9L342.95 371.6" stroke="#231815" stroke-width="1.6" fill="none"/><ellipse cx="375.75" cy="357.25" rx="14.1" ry="14.2" fill="none" stroke="#231815" stroke-width="1.5"/><path d="M360.8 355.6L374.1 355.6L374.1 342.9M360.8 358.9L374.1 358.9L374.1 371.6M390.7 355.6L377.4 355.6L377.4 342.9M390.7 358.9L377.4 358.9L377.4 371.6" stroke="#231815" stroke-width="1.6" fill="none"/><text x="299.3" y="363.5" font-size="17.5" font-weight="700" fill="#231815" style='font-family:"Liberation Sans","Noto Sans CJK SC",sans-serif' textLength="16.8" lengthAdjust="spacingAndGlyphs" stroke="#231815" stroke-width="0.3">35</text><text x="400.9" y="359.7" font-size="17.5" font-weight="700" fill="#231815" style='font-family:"Liberation Sans","Noto Sans CJK SC",sans-serif' textLength="15.8" lengthAdjust="spacingAndGlyphs" stroke="#231815" stroke-width="0.3">23</text><rect x="0" y="376.82" width="60.2" height="28.7" fill="none" stroke="#231815" stroke-width="1.7"/><path d="M21.7 376.82L21.7 405.52" stroke="#231815" stroke-width="1.7" fill="none" /><path d="M30 376.82L30 405.52" stroke="#231815" stroke-width="1.7" fill="none" /><ellipse cx="45.1" cy="391.17" rx="14.8" ry="14.2" fill="none" stroke="#231815" stroke-width="1.5"/><path d="M30 389.52L43.45 389.52L43.45 376.82M30 392.82L43.45 392.82L43.45 405.52M60.2 389.52L46.75 389.52L46.75 376.82M60.2 392.82L46.75 392.82L46.75 405.52" stroke="#231815" stroke-width="1.6" fill="none"/><text x="3" y="394.12" font-size="19" font-weight="700" fill="#231815" style='font-family:"Liberation Sans","Noto Sans CJK SC",sans-serif' textLength="16.2" lengthAdjust="spacingAndGlyphs" stroke="#231815" stroke-width="0.3">12</text><path d="M295.7 376.82L421 376.82" stroke="#231815" stroke-width="1.7" fill="none" /><path d="M295.7 405.52L421 405.52" stroke="#231815" stroke-width="1.7" fill="none" /><path d="M318.7 376.82L318.7 405.52" stroke="#231815" stroke-width="1.7" fill="none" /><rect x="326.1" y="376.82" width="30.4" height="28.7" fill="none" stroke="#231815" stroke-width="1.7"/><rect x="361" y="376.82" width="29.7" height="28.7" fill="none" stroke="#231815" stroke-width="1.7"/><path d="M398.4 376.82L398.4 405.52" stroke="#231815" stroke-width="1.7" fill="none" /><ellipse cx="341.3" cy="391.17" rx="14.2" ry="14.2" fill="none" stroke="#231815" stroke-width="1.5"/><path d="M326.1 389.52L339.65 389.52L339.65 376.82M326.1 392.82L339.65 392.82L339.65 405.52M356.5 389.52L342.95 389.52L342.95 376.82M356.5 392.82L342.95 392.82L342.95 405.52" stroke="#231815" stroke-width="1.6" fill="none"/><ellipse cx="375.75" cy="391.17" rx="14.1" ry="14.2" fill="none" stroke="#231815" stroke-width="1.5"/><path d="M360.8 389.52L374.1 389.52L374.1 376.82M360.8 392.82L374.1 392.82L374.1 405.52M390.7 389.52L377.4 389.52L377.4 376.82M390.7 392.82L377.4 392.82L377.4 405.52" stroke="#231815" stroke-width="1.6" fill="none"/><text x="299.3" y="397.42" font-size="17.5" font-weight="700" fill="#231815" style='font-family:"Liberation Sans","Noto Sans CJK SC",sans-serif' textLength="16.8" lengthAdjust="spacingAndGlyphs" stroke="#231815" stroke-width="0.3">36</text><text x="400.9" y="393.62" font-size="17.5" font-weight="700" fill="#231815" style='font-family:"Liberation Sans","Noto Sans CJK SC",sans-serif' textLength="15.8" lengthAdjust="spacingAndGlyphs" stroke="#231815" stroke-width="0.3">24</text></g><g transform="translate(119.3 576.6) scale(0.977)"><path d="M598.3 628V712.8H747.6V618" stroke="#231815" stroke-width="1.3" fill="#fff" stroke-linejoin="round" /><path d="M603 628V712.8M615.2 628V712.8M646 628V712.8M698.2 628V712.8M730.8 628V712.8M743.2 628V712.8" stroke="#231815" stroke-width="1" fill="none" stroke-linejoin="round" /><path d="M598.3 688.5H591.2Q589 688.5 589 690.7V709.6Q589 711.8 591.2 711.8H598.3" stroke="#231815" stroke-width="1.2" fill="#fff" stroke-linejoin="round" /><path d="M760.3 585V610C760.5 616 757 619.4 748 620L740 612Z" stroke="#231815" stroke-width="1.3" fill="#fff" stroke-linejoin="round" /><path d="M571.3 511.4A3.8 5.1 0 0 0 571.3 521.6M571.3 566.8A3.8 5.5 0 0 0 571.3 577.9" stroke="#231815" stroke-width="1.2" fill="#fff" stroke-linejoin="round" /><path d="M571.1 511.4V577.9M573.9 511.4V577.9" stroke="#231815" stroke-width="1.1" fill="none" stroke-linejoin="round" /><path d="M571.1 511.4H578.7V515.8H571.1M571.1 572.3H578.7V577.9H571.1" stroke="#231815" stroke-width="1.1" fill="none" stroke-linejoin="round" /><rect x="568" y="447.4" width="6.6" height="59.8" fill="#fff" stroke="#231815" stroke-width="1.2"/><path d="M568 445.4H557.5Q554.8 445.4 554.8 449Q552.6 477.5 554.8 506Q554.8 509.6 557.5 509.6H568Z" stroke="#231815" stroke-width="1.4" fill="#fff" stroke-linejoin="round" /><path d="M557.2 446.4V508.6" stroke="#231815" stroke-width="1" fill="none" stroke-linejoin="round" /><path d="M557.2 458.9H568M557.2 462.9H568M557.2 490.1H568M557.2 493.8H568" stroke="#231815" stroke-width="1" fill="none" stroke-linejoin="round" /><rect x="769.4" y="447.4" width="6.6" height="59.8" fill="#fff" stroke="#231815" stroke-width="1.2"/><path d="M776 445.4H786.5Q789.2 445.4 789.2 449Q791.4 477.5 789.2 506Q789.2 509.6 786.5 509.6H776Z" stroke="#231815" stroke-width="1.4" fill="#fff" stroke-linejoin="round" /><path d="M786.8 446.4V508.6" stroke="#231815" stroke-width="1" fill="none" stroke-linejoin="round" /><path d="M776 458.9H786.8M776 462.9H786.8M776 490.1H786.8M776 493.8H786.8" stroke="#231815" stroke-width="1" fill="none" stroke-linejoin="round" /><path d="M575.2 543V441H769 V543" stroke="#231815" stroke-width="2.1" fill="#fff" stroke-linejoin="round" /><path d="M577.4 443.8H766.4" stroke="#231815" stroke-width="1" fill="none" stroke-linejoin="round" /><path d="M578 441V439.6Q578 438.3 579.5 438.3H590.5Q592 438.3 592 439.6V441" stroke="#231815" stroke-width="1.2" fill="#fff" stroke-linejoin="round" /><path d="M753.5 441V439.6Q753.5 438.3 755 438.3H766.5Q768 438.3 768 439.6V441" stroke="#231815" stroke-width="1.2" fill="#fff" stroke-linejoin="round" /><circle cx="672.3" cy="543" r="97.3" fill="#fff" stroke="#231815" stroke-width="2.5"/><circle cx="672.3" cy="543" r="90.4" fill="none" stroke="#231815" stroke-width="1.25"/><circle cx="672.3" cy="543" r="85.7" fill="none" stroke="#231815" stroke-width="1.25"/><circle cx="672.3" cy="543" r="83.8" fill="none" stroke="#231815" stroke-width="1.1"/><circle cx="672.3" cy="543" r="82" fill="none" stroke="#231815" stroke-width="1.1"/><path d="M595.6 602.4L594.6 609C591 613 590.5 622 592.5 627C594 631 597 633 601 633L636 633C645 634.5 652 637.5 660 639.4L660.4 635.7A93.5 93.5 0 0 1 598.4 600.3Z" fill="#fff" stroke="none"/><path d="M596.2 601.6L594.8 609C591 613 590.5 622 592.5 627C594 631 597 633 601 633L636 633C645 634.5 652 637.5 661 639.6" stroke="#231815" stroke-width="1.4" fill="none" stroke-linejoin="round" /><circle cx="603.1" cy="619.5" r="8" fill="#fff" stroke="#231815" stroke-width="3.5"/><circle cx="603.1" cy="619.5" r="4.1" fill="none" stroke="#231815" stroke-width="0.8"/><path d="M592.4 607H582.2C577 607 575.3 613 575.3 619.3C575.3 625.6 577 631.6 582.2 631.6H592.4Z" stroke="#231815" stroke-width="1.3" fill="#fff" stroke-linejoin="round" /><path d="M582.2 607V631.6M587.3 607V631.6" stroke="#231815" stroke-width="1.1" fill="none" stroke-linejoin="round" /><circle cx="752.3" cy="611.7" r="3.6" fill="#fff" stroke="#231815" stroke-width="1.1"/><path d="M603.6 505.7A78.2 78.2 0 1 0 741 505.7Z" stroke="#231815" stroke-width="1.35" fill="#fff" stroke-linejoin="round" /><path d="M604.6 496.1H659.5Q662.6 496.1 662.3 499Q662 502 658 502H606.5" stroke="#231815" stroke-width="1.3" fill="#fff" stroke-linejoin="round" /><path d="M620 502V505.7M658.4 502L656 505.7" stroke="#231815" stroke-width="1.1" fill="none" stroke-linejoin="round" /><path d="M740.2 496.1H685.2L686.4 498.6Q687.8 502 691 502H738.5" stroke="#231815" stroke-width="1.3" fill="#fff" stroke-linejoin="round" /><path d="M725 502V505.7M691.5 502L693.5 505.7" stroke="#231815" stroke-width="1.1" fill="none" stroke-linejoin="round" /><path d="M682.2 458.6V495.6M682.2 495.4H699.3M699.3 460.6V474C699.3 481 695 485 689 485H682.2" stroke="#231815" stroke-width="1.1" fill="none" stroke-linejoin="round" /><path d="M603.2 507.4H637Q642.4 507.4 642.4 512.8V557.2" stroke="#231815" stroke-width="1.1" fill="none" stroke-linejoin="round" /><path d="M742.6 507.4H707Q701.6 507.4 701.6 512.8V552Q701.6 557.2 707 557.2H745" stroke="#231815" stroke-width="1.1" fill="none" stroke-linejoin="round" /><rect x="642.8" y="557.2" width="57.45" height="31.7" fill="#fff" stroke="#231815" stroke-width="1.4"/><path d="M646.4 560H660.35V586.6H646.4ZM665.55 560H679.5V586.6H665.55ZM661.95 557.2V588.9M684.7 560H698.05V586.6H684.7ZM681.1 557.2V588.9" stroke="#231815" stroke-width="1" fill="none" stroke-linejoin="round" /><path d="M645.8 587.6H698.25" stroke="#231815" stroke-width="1.8" fill="none" stroke-linejoin="round" /><circle cx="653.9" cy="573.3" r="6.3" fill="#fff" stroke="#231815" stroke-width="1.3"/><path d="M651 573.3H656.8M653.9 570.4V576.2" stroke="#231815" stroke-width="1.9" fill="none"/><circle cx="673.05" cy="573.3" r="6.3" fill="#fff" stroke="#231815" stroke-width="1.3"/><path d="M670.15 573.3H675.95M673.05 570.4V576.2" stroke="#231815" stroke-width="1.9" fill="none"/><circle cx="692.2" cy="573.3" r="6.3" fill="#fff" stroke="#231815" stroke-width="1.3"/><path d="M689.3 573.3H695.1M692.2 570.4V576.2" stroke="#231815" stroke-width="1.9" fill="none"/><path d="M664 620.6V612.6A8.4 8.4 0 0 1 680.8 612.6V620.4" stroke="#231815" stroke-width="1.3" fill="#fff" stroke-linejoin="round" /><circle cx="672.4" cy="613.3" r="5.8" fill="#fff" stroke="#231815" stroke-width="1.3"/><path d="M669.6 613.3H675.2M672.4 610.5V616.1" stroke="#231815" stroke-width="1.9" fill="none"/></g><path d="M749.4 1160.6H754.2V1154H761.6V1160.6H766.8" stroke="#231815" stroke-width="1.7" fill="none"/><text x="770.6" y="1165.4" font-size="22" font-weight="400" fill="#231815" style='font-family:"Liberation Sans","Noto Sans CJK SC",sans-serif' stroke="#231815" stroke-width="0.35">−</text><text x="789" y="1165.6" font-size="22" font-weight="400" fill="#231815" style='font-family:"Liberation Sans","Noto Sans CJK SC",sans-serif' stroke="#231815" stroke-width="0.35">+</text><use href="#pt" transform="translate(136.6 985) scale(0.978)"/><use href="#pt" transform="translate(-66.7 1134.1) scale(0.978)"/><path d="M453.3 1236L649.3 1236L649.3 1318.7L991.5 1318.7L1009.6 1349.4" stroke="#8f0680" stroke-width="2.5" fill="none" stroke-linejoin="miter"/><path d="M453.3 1270L639.3 1270L639.3 1328.1L978.9 1328.1L993.3 1349.4" stroke="#181b83" stroke-width="2.5" fill="none" stroke-linejoin="miter"/><path d="M453.3 1304L628.4 1304L628.4 1336.3L968.6 1336.3L978 1349.4" stroke="#181b83" stroke-width="2.5" fill="none" stroke-linejoin="miter"/><path d="M453.3 1336.2L575.7 1336.2L575.7 1467.7L787.7 1467.7L806.2 1498.5" stroke="#8f0680" stroke-width="2.5" fill="none" stroke-linejoin="miter"/><path d="M453.3 1370L566 1370L566 1475.7L775 1475.7L789.6 1498.5" stroke="#181b83" stroke-width="2.5" fill="none" stroke-linejoin="miter"/><path d="M453.3 1402.4L555.8 1402.4L555.8 1483.4L765.3 1483.4L774.6 1498.5" stroke="#181b83" stroke-width="2.5" fill="none" stroke-linejoin="miter"/><path d="M128.3 1335L264.4 1335L264.4 1028.7L794 1028.7L794 1134.6" stroke="#e4007f" stroke-width="3" fill="none" stroke-linejoin="miter"/><path d="M128.3 1368.9L407 1368.9" stroke="#00a0e9" stroke-width="2.8" fill="none" stroke-linejoin="miter"/><path d="M283 1368.9L283 1043.1L776.5 1043.1L776.5 1134.6" stroke="#00a0e9" stroke-width="2.8" fill="none" stroke-linejoin="miter"/><circle cx="283" cy="1368.9" r="4.6" fill="#00a0e9"/><path d="M407 1336.1L299.2 1336.1L299.2 1058.7L758 1058.7L758 1134.6" stroke="#009944" stroke-width="2.8" fill="none" stroke-linejoin="miter"/><path d="M46.4 1468L117.2 1468" stroke="#e60012" stroke-width="3.4" fill="none" stroke-linejoin="miter"/><path d="M46.4 1502.2L117.2 1502.2" stroke="#231815" stroke-width="3" fill="none" stroke-linejoin="miter"/><text x="30.3" y="1474.5" font-size="21.3" fill="#e60012" stroke="#e60012" stroke-width="0.22" style='font-family:"Liberation Sans","DejaVu Sans","Noto Sans CJK SC",sans-serif' textLength="10.4" lengthAdjust="spacingAndGlyphs">L</text><text x="28.4" y="1511" font-size="21.3" fill="#231815" stroke="#231815" stroke-width="0.22" style='font-family:"Liberation Sans","DejaVu Sans","Noto Sans CJK SC",sans-serif' textLength="12.6" lengthAdjust="spacingAndGlyphs">N</text><text x="147" y="1335.4" font-size="24" font-weight="400" fill="#231815" style='font-family:"Liberation Sans","Noto Sans CJK SC",sans-serif' >+</text><text x="147.6" y="1356.7" font-size="18.75" fill="#231815" stroke="#231815" stroke-width="0.22" style='font-family:"Liberation Sans","DejaVu Sans","Noto Sans CJK SC",sans-serif' textLength="47.1" lengthAdjust="spacingAndGlyphs">DC24V</text><text x="147" y="1383.8" font-size="24" font-weight="400" fill="#231815" style='font-family:"Liberation Sans","Noto Sans CJK SC",sans-serif' >−</text><text x="147" y="1400.4" font-size="24" font-weight="400" fill="#231815" style='font-family:"Liberation Sans","Noto Sans CJK SC",sans-serif' >−</text><text x="328.2" y="1331.2" font-size="15.5" fill="#231815" stroke="#231815" stroke-width="0.22" style='font-family:"Liberation Sans","DejaVu Sans","Noto Sans CJK SC",sans-serif' textLength="34" lengthAdjust="spacing">Fin+</text><text x="328.2" y="1365.2" font-size="15.5" fill="#231815" stroke="#231815" stroke-width="0.22" style='font-family:"Liberation Sans","DejaVu Sans","Noto Sans CJK SC",sans-serif' textLength="34" lengthAdjust="spacing">Fin−</text><text x="530.4" y="1233.3" font-size="16" fill="#231815" stroke="#231815" stroke-width="0.22" style='font-family:"Liberation Sans","DejaVu Sans","Noto Sans CJK SC",sans-serif' textLength="7.6" lengthAdjust="spacingAndGlyphs">A</text><text x="528.6" y="1266.2" font-size="16" fill="#231815" stroke="#231815" stroke-width="0.22" style='font-family:"Liberation Sans","DejaVu Sans","Noto Sans CJK SC",sans-serif' textLength="9" lengthAdjust="spacingAndGlyphs">B</text><text x="528.6" y="1299.4" font-size="16" fill="#231815" stroke="#231815" stroke-width="0.22" style='font-family:"Liberation Sans","DejaVu Sans","Noto Sans CJK SC",sans-serif' textLength="9" lengthAdjust="spacingAndGlyphs">B</text><text x="512.4" y="1332.8" font-size="16" fill="#231815" stroke="#231815" stroke-width="0.22" style='font-family:"Liberation Sans","DejaVu Sans","Noto Sans CJK SC",sans-serif' textLength="7.6" lengthAdjust="spacingAndGlyphs">A</text><text x="512.4" y="1366" font-size="16" fill="#231815" stroke="#231815" stroke-width="0.22" style='font-family:"Liberation Sans","DejaVu Sans","Noto Sans CJK SC",sans-serif' textLength="9" lengthAdjust="spacingAndGlyphs">B</text><text x="512.4" y="1398.4" font-size="16" fill="#231815" stroke="#231815" stroke-width="0.22" style='font-family:"Liberation Sans","DejaVu Sans","Noto Sans CJK SC",sans-serif' textLength="9" lengthAdjust="spacingAndGlyphs">B</text><text x="916.4" y="1254.8" font-size="18.3" fill="#231815" style='font-family:"Liberation Sans","Noto Sans CJK SC",sans-serif'>三线制</text><text x="980.7" y="1254.8" font-size="17.7" fill="#231815" stroke="#231815" stroke-width="0.22" style='font-family:"Liberation Sans","DejaVu Sans","Noto Sans CJK SC",sans-serif' textLength="48.2" lengthAdjust="spacingAndGlyphs">PT100</text><text x="706.3" y="1404.8" font-size="18.3" fill="#231815" style='font-family:"Liberation Sans","Noto Sans CJK SC",sans-serif'>三线制</text><text x="770.6" y="1404.8" font-size="17.7" fill="#231815" stroke="#231815" stroke-width="0.22" style='font-family:"Liberation Sans","DejaVu Sans","Noto Sans CJK SC",sans-serif' textLength="48.2" lengthAdjust="spacingAndGlyphs">PT100</text><circle cx="928" cy="1512.4" r="0.55" fill="#666"/><text x="725.4" y="997.3" font-size="18.5" font-weight="500" fill="#231815" style='font-family:"Liberation Sans","Noto Sans CJK SC",sans-serif' >涡街流量计</text><path d="M85.1 1542L96.8 1542M540.4 1542L552.1 1542M120.1 1542L143.5 1542M166.8 1542L190.2 1542M213.5 1542L236.9 1542M260.2 1542L283.6 1542M306.9 1542L330.3 1542M353.6 1542L377 1542M400.3 1542L423.7 1542M447 1542L470.4 1542M493.7 1542L517.1 1542M85.1 1803.8L96.8 1803.8M540.4 1803.8L552.1 1803.8M120.1 1803.8L143.5 1803.8M166.8 1803.8L190.2 1803.8M213.5 1803.8L236.9 1803.8M260.2 1803.8L283.6 1803.8M306.9 1803.8L330.3 1803.8M353.6 1803.8L377 1803.8M400.3 1803.8L423.7 1803.8M447 1803.8L470.4 1803.8M493.7 1803.8L517.1 1803.8M85.8 1542L85.8 1553M85.8 1792.8L85.8 1803.8M85.8 1575.13L85.8 1596.53M85.8 1618.67L85.8 1640.07M85.8 1662.2L85.8 1683.6M85.8 1705.73L85.8 1727.13M85.8 1749.27L85.8 1770.67M551.4 1542L551.4 1553M551.4 1792.8L551.4 1803.8M551.4 1575.13L551.4 1596.53M551.4 1618.67L551.4 1640.07M551.4 1662.2L551.4 1683.6M551.4 1705.73L551.4 1727.13M551.4 1749.27L551.4 1770.67" stroke="#898989" stroke-width="1.4" fill="none"/><text x="111.2" y="1571.4" font-size="18.45" font-weight="400" fill="#231815" style='font-family:"Liberation Sans","Noto Sans CJK SC",sans-serif' >流量输入</text><text x="250.3" y="1571" font-size="18.45" font-weight="400" fill="#231815" style='font-family:"Liberation Sans","Noto Sans CJK SC",sans-serif' >出口温度输入</text><text x="398.7" y="1571" font-size="18.45" font-weight="400" fill="#231815" style='font-family:"Liberation Sans","Noto Sans CJK SC",sans-serif' >入口温度输入</text><text x="110.3" y="1711.7" font-size="18.45" font-weight="400" fill="#231815" style='font-family:"Liberation Sans","Noto Sans CJK SC",sans-serif' >馈电输出</text><text x="244.3" y="1711.7" font-size="18.45" font-weight="400" fill="#231815" style='font-family:"Liberation Sans","Noto Sans CJK SC",sans-serif' >工作电源</text><path d="M110 1582.4L168 1582.4" stroke="#231815" stroke-width="1.5" fill="none" /><path d="M110 1610.2L168 1610.2" stroke="#231815" stroke-width="1.5" fill="none" /><path d="M132.33 1582.4L132.33 1610.2" stroke="#231815" stroke-width="1.5" fill="none" /><path d="M139.29 1582.4L139.29 1610.2" stroke="#231815" stroke-width="1.5" fill="none" /><path d="M168 1581.65L168 1610.95" stroke="#231815" stroke-width="1.5" fill="none" /><ellipse cx="153.64" cy="1596.3" rx="13.8" ry="13.8" fill="none" stroke="#231815" stroke-width="1.5"/><path d="M139.29 1594.65L151.99 1594.65L151.99 1582.4M139.29 1597.95L151.99 1597.95L151.99 1610.2M168 1594.65L155.29 1594.65L155.29 1582.4M168 1597.95L155.29 1597.95L155.29 1610.2" stroke="#231815" stroke-width="1.5" fill="none"/><text x="119.77" y="1602.06" font-size="16" font-weight="700" fill="#231815" style='font-family:"Liberation Sans","Noto Sans CJK SC",sans-serif' text-anchor="middle" textLength="16.64" lengthAdjust="spacingAndGlyphs" >31</text><path d="M110 1615.4L168 1615.4" stroke="#231815" stroke-width="1.5" fill="none" /><path d="M110 1643.2L168 1643.2" stroke="#231815" stroke-width="1.5" fill="none" /><path d="M132.33 1615.4L132.33 1643.2" stroke="#231815" stroke-width="1.5" fill="none" /><path d="M139.29 1615.4L139.29 1643.2" stroke="#231815" stroke-width="1.5" fill="none" /><path d="M168 1614.65L168 1643.95" stroke="#231815" stroke-width="1.5" fill="none" /><ellipse cx="153.64" cy="1629.3" rx="13.8" ry="13.8" fill="none" stroke="#231815" stroke-width="1.5"/><path d="M139.29 1627.65L151.99 1627.65L151.99 1615.4M139.29 1630.95L151.99 1630.95L151.99 1643.2M168 1627.65L155.29 1627.65L155.29 1615.4M168 1630.95L155.29 1630.95L155.29 1643.2" stroke="#231815" stroke-width="1.5" fill="none"/><text x="119.77" y="1635.06" font-size="16" font-weight="700" fill="#231815" style='font-family:"Liberation Sans","Noto Sans CJK SC",sans-serif' text-anchor="middle" textLength="16.64" lengthAdjust="spacingAndGlyphs" >32</text><path d="M168 1596.5L197.4 1596.5" stroke="#231815" stroke-width="1.4" fill="none" /><circle cx="200.4" cy="1596.5" r="2.9" fill="#fff" stroke="#231815" stroke-width="1.4"/><path d="M168 1628.2L197.4 1628.2" stroke="#231815" stroke-width="1.4" fill="none" /><circle cx="200.4" cy="1628.2" r="2.9" fill="#fff" stroke="#231815" stroke-width="1.4"/><text x="173.6" y="1595.4" font-size="21" font-weight="400" fill="#231815" style='font-family:"Liberation Sans","Noto Sans CJK SC",sans-serif' >+</text><text x="175.2" y="1646.8" font-size="21" font-weight="400" fill="#231815" style='font-family:"Liberation Sans","Noto Sans CJK SC",sans-serif' >−</text><text x="177.9" y="1615.4" font-size="17.2" fill="#231815" stroke="#231815" stroke-width="0.22" style='font-family:"Liberation Sans","DejaVu Sans","Noto Sans CJK SC",sans-serif' textLength="28.2" lengthAdjust="spacing">Fin</text><path d="M248.7 1582L307.5 1582" stroke="#231815" stroke-width="1.5" fill="none" /><path d="M248.7 1610.2L307.5 1610.2" stroke="#231815" stroke-width="1.5" fill="none" /><path d="M271.34 1582L271.34 1610.2" stroke="#231815" stroke-width="1.5" fill="none" /><path d="M278.39 1582L278.39 1610.2" stroke="#231815" stroke-width="1.5" fill="none" /><path d="M307.5 1581.25L307.5 1610.95" stroke="#231815" stroke-width="1.5" fill="none" /><ellipse cx="292.95" cy="1596.1" rx="14" ry="14" fill="none" stroke="#231815" stroke-width="1.5"/><path d="M278.39 1594.45L291.3 1594.45L291.3 1582M278.39 1597.75L291.3 1597.75L291.3 1610.2M307.5 1594.45L294.6 1594.45L294.6 1582M307.5 1597.75L294.6 1597.75L294.6 1610.2" stroke="#231815" stroke-width="1.5" fill="none"/><text x="258.62" y="1601.86" font-size="16" font-weight="700" fill="#231815" style='font-family:"Liberation Sans","Noto Sans CJK SC",sans-serif' text-anchor="middle" textLength="16.64" lengthAdjust="spacingAndGlyphs" >16</text><path d="M248.7 1615.2L307.5 1615.2" stroke="#231815" stroke-width="1.5" fill="none" /><path d="M248.7 1643.4L307.5 1643.4" stroke="#231815" stroke-width="1.5" fill="none" /><path d="M271.34 1615.2L271.34 1643.4" stroke="#231815" stroke-width="1.5" fill="none" /><path d="M278.39 1615.2L278.39 1643.4" stroke="#231815" stroke-width="1.5" fill="none" /><path d="M307.5 1614.45L307.5 1644.15" stroke="#231815" stroke-width="1.5" fill="none" /><ellipse cx="292.95" cy="1629.3" rx="14" ry="14" fill="none" stroke="#231815" stroke-width="1.5"/><path d="M278.39 1627.65L291.3 1627.65L291.3 1615.2M278.39 1630.95L291.3 1630.95L291.3 1643.4M307.5 1627.65L294.6 1627.65L294.6 1615.2M307.5 1630.95L294.6 1630.95L294.6 1643.4" stroke="#231815" stroke-width="1.5" fill="none"/><text x="258.62" y="1635.06" font-size="16" font-weight="700" fill="#231815" style='font-family:"Liberation Sans","Noto Sans CJK SC",sans-serif' text-anchor="middle" textLength="16.64" lengthAdjust="spacingAndGlyphs" >17</text><path d="M248.7 1648.8L307.5 1648.8" stroke="#231815" stroke-width="1.5" fill="none" /><path d="M248.7 1677L307.5 1677" stroke="#231815" stroke-width="1.5" fill="none" /><path d="M271.34 1648.8L271.34 1677" stroke="#231815" stroke-width="1.5" fill="none" /><path d="M278.39 1648.8L278.39 1677" stroke="#231815" stroke-width="1.5" fill="none" /><path d="M307.5 1648.05L307.5 1677.75" stroke="#231815" stroke-width="1.5" fill="none" /><ellipse cx="292.95" cy="1662.9" rx="14" ry="14" fill="none" stroke="#231815" stroke-width="1.5"/><path d="M278.39 1661.25L291.3 1661.25L291.3 1648.8M278.39 1664.55L291.3 1664.55L291.3 1677M307.5 1661.25L294.6 1661.25L294.6 1648.8M307.5 1664.55L294.6 1664.55L294.6 1677" stroke="#231815" stroke-width="1.5" fill="none"/><text x="258.62" y="1668.66" font-size="16" font-weight="700" fill="#231815" style='font-family:"Liberation Sans","Noto Sans CJK SC",sans-serif' text-anchor="middle" textLength="16.64" lengthAdjust="spacingAndGlyphs" >18</text><path d="M307.5 1595.4L325.8 1595.4L325.8 1600.9" stroke="#231815" stroke-width="1.4" fill="none" /><rect x="321.7" y="1600.9" width="8.2" height="25" fill="#fff" stroke="#231815" stroke-width="1.4"/><path d="M325.8 1625.9L325.8 1663L307.5 1663" stroke="#231815" stroke-width="1.4" fill="none" /><path d="M307.5 1628.8L316.65 1628.8L316.65 1646.1L325.8 1646.1" stroke="#231815" stroke-width="1.4" fill="none" /><text x="331.6" y="1631.2" font-size="15.2" fill="#231815" stroke="#231815" stroke-width="0.22" style='font-family:"Liberation Sans","DejaVu Sans","Noto Sans CJK SC",sans-serif' textLength="25.6" lengthAdjust="spacingAndGlyphs">RTD</text><path d="M397 1582L455.8 1582" stroke="#231815" stroke-width="1.5" fill="none" /><path d="M397 1610.2L455.8 1610.2" stroke="#231815" stroke-width="1.5" fill="none" /><path d="M419.64 1582L419.64 1610.2" stroke="#231815" stroke-width="1.5" fill="none" /><path d="M426.69 1582L426.69 1610.2" stroke="#231815" stroke-width="1.5" fill="none" /><path d="M455.8 1581.25L455.8 1610.95" stroke="#231815" stroke-width="1.5" fill="none" /><ellipse cx="441.25" cy="1596.1" rx="14" ry="14" fill="none" stroke="#231815" stroke-width="1.5"/><path d="M426.69 1594.45L439.6 1594.45L439.6 1582M426.69 1597.75L439.6 1597.75L439.6 1610.2M455.8 1594.45L442.9 1594.45L442.9 1582M455.8 1597.75L442.9 1597.75L442.9 1610.2" stroke="#231815" stroke-width="1.5" fill="none"/><text x="406.92" y="1601.86" font-size="16" font-weight="700" fill="#231815" style='font-family:"Liberation Sans","Noto Sans CJK SC",sans-serif' text-anchor="middle" textLength="16.64" lengthAdjust="spacingAndGlyphs" >19</text><path d="M397 1615.2L455.8 1615.2" stroke="#231815" stroke-width="1.5" fill="none" /><path d="M397 1643.4L455.8 1643.4" stroke="#231815" stroke-width="1.5" fill="none" /><path d="M419.64 1615.2L419.64 1643.4" stroke="#231815" stroke-width="1.5" fill="none" /><path d="M426.69 1615.2L426.69 1643.4" stroke="#231815" stroke-width="1.5" fill="none" /><path d="M455.8 1614.45L455.8 1644.15" stroke="#231815" stroke-width="1.5" fill="none" /><ellipse cx="441.25" cy="1629.3" rx="14" ry="14" fill="none" stroke="#231815" stroke-width="1.5"/><path d="M426.69 1627.65L439.6 1627.65L439.6 1615.2M426.69 1630.95L439.6 1630.95L439.6 1643.4M455.8 1627.65L442.9 1627.65L442.9 1615.2M455.8 1630.95L442.9 1630.95L442.9 1643.4" stroke="#231815" stroke-width="1.5" fill="none"/><text x="406.92" y="1635.06" font-size="16" font-weight="700" fill="#231815" style='font-family:"Liberation Sans","Noto Sans CJK SC",sans-serif' text-anchor="middle" textLength="16.64" lengthAdjust="spacingAndGlyphs" >20</text><path d="M397 1648.8L455.8 1648.8" stroke="#231815" stroke-width="1.5" fill="none" /><path d="M397 1677L455.8 1677" stroke="#231815" stroke-width="1.5" fill="none" /><path d="M419.64 1648.8L419.64 1677" stroke="#231815" stroke-width="1.5" fill="none" /><path d="M426.69 1648.8L426.69 1677" stroke="#231815" stroke-width="1.5" fill="none" /><path d="M455.8 1648.05L455.8 1677.75" stroke="#231815" stroke-width="1.5" fill="none" /><ellipse cx="441.25" cy="1662.9" rx="14" ry="14" fill="none" stroke="#231815" stroke-width="1.5"/><path d="M426.69 1661.25L439.6 1661.25L439.6 1648.8M426.69 1664.55L439.6 1664.55L439.6 1677M455.8 1661.25L442.9 1661.25L442.9 1648.8M455.8 1664.55L442.9 1664.55L442.9 1677" stroke="#231815" stroke-width="1.5" fill="none"/><text x="406.92" y="1668.66" font-size="16" font-weight="700" fill="#231815" style='font-family:"Liberation Sans","Noto Sans CJK SC",sans-serif' text-anchor="middle" textLength="16.64" lengthAdjust="spacingAndGlyphs" >21</text><path d="M455.8 1595.4L474.2 1595.4L474.2 1600.9" stroke="#231815" stroke-width="1.4" fill="none" /><rect x="470.1" y="1600.9" width="8.2" height="25" fill="#fff" stroke="#231815" stroke-width="1.4"/><path d="M474.2 1625.9L474.2 1663L455.8 1663" stroke="#231815" stroke-width="1.4" fill="none" /><path d="M455.8 1628.8L465 1628.8L465 1646.1L474.2 1646.1" stroke="#231815" stroke-width="1.4" fill="none" /><text x="480" y="1631.2" font-size="15.2" fill="#231815" stroke="#231815" stroke-width="0.22" style='font-family:"Liberation Sans","DejaVu Sans","Noto Sans CJK SC",sans-serif' textLength="25.6" lengthAdjust="spacingAndGlyphs">RTD</text><path d="M110.8 1720.8L169.2 1720.8" stroke="#231815" stroke-width="1.5" fill="none" /><path d="M110.8 1749L169.2 1749" stroke="#231815" stroke-width="1.5" fill="none" /><path d="M133.28 1720.8L133.28 1749" stroke="#231815" stroke-width="1.5" fill="none" /><path d="M140.29 1720.8L140.29 1749" stroke="#231815" stroke-width="1.5" fill="none" /><path d="M169.2 1720.05L169.2 1749.75" stroke="#231815" stroke-width="1.5" fill="none" /><ellipse cx="154.75" cy="1734.9" rx="14" ry="14" fill="none" stroke="#231815" stroke-width="1.5"/><path d="M140.29 1733.25L153.1 1733.25L153.1 1720.8M140.29 1736.55L153.1 1736.55L153.1 1749M169.2 1733.25L156.4 1733.25L156.4 1720.8M169.2 1736.55L156.4 1736.55L156.4 1749" stroke="#231815" stroke-width="1.5" fill="none"/><text x="120.64" y="1740.66" font-size="16" font-weight="700" fill="#231815" style='font-family:"Liberation Sans","Noto Sans CJK SC",sans-serif' text-anchor="middle" >7</text><path d="M110.8 1754.8L169.2 1754.8" stroke="#231815" stroke-width="1.5" fill="none" /><path d="M110.8 1783L169.2 1783" stroke="#231815" stroke-width="1.5" fill="none" /><path d="M133.28 1754.8L133.28 1783" stroke="#231815" stroke-width="1.5" fill="none" /><path d="M140.29 1754.8L140.29 1783" stroke="#231815" stroke-width="1.5" fill="none" /><path d="M169.2 1754.05L169.2 1783.75" stroke="#231815" stroke-width="1.5" fill="none" /><ellipse cx="154.75" cy="1768.9" rx="14" ry="14" fill="none" stroke="#231815" stroke-width="1.5"/><path d="M140.29 1767.25L153.1 1767.25L153.1 1754.8M140.29 1770.55L153.1 1770.55L153.1 1783M169.2 1767.25L156.4 1767.25L156.4 1754.8M169.2 1770.55L156.4 1770.55L156.4 1783" stroke="#231815" stroke-width="1.5" fill="none"/><text x="120.64" y="1774.66" font-size="16" font-weight="700" fill="#231815" style='font-family:"Liberation Sans","Noto Sans CJK SC",sans-serif' text-anchor="middle" >8</text><path d="M169.2 1736.8L196.2 1736.8" stroke="#231815" stroke-width="1.4" fill="none" /><circle cx="199.2" cy="1736.8" r="2.9" fill="#fff" stroke="#231815" stroke-width="1.4"/><path d="M169.2 1768.4L196.2 1768.4" stroke="#231815" stroke-width="1.4" fill="none" /><circle cx="199.2" cy="1768.4" r="2.9" fill="#fff" stroke="#231815" stroke-width="1.4"/><text x="174.2" y="1735.9" font-size="21" font-weight="400" fill="#231815" style='font-family:"Liberation Sans","Noto Sans CJK SC",sans-serif' >+</text><text x="174.2" y="1783.8" font-size="21" font-weight="400" fill="#231815" style='font-family:"Liberation Sans","Noto Sans CJK SC",sans-serif' >−</text><text x="177.3" y="1758.4" font-size="17.6" fill="#231815" stroke="#231815" stroke-width="0.22" style='font-family:"Liberation Sans","DejaVu Sans","Noto Sans CJK SC",sans-serif' textLength="46.6" lengthAdjust="spacingAndGlyphs">DC24V</text><path d="M246.3 1725.3L302.5 1725.3" stroke="#231815" stroke-width="1.5" fill="none" /><path d="M246.3 1752.9L302.5 1752.9" stroke="#231815" stroke-width="1.5" fill="none" /><path d="M267.94 1725.3L267.94 1752.9" stroke="#231815" stroke-width="1.5" fill="none" /><path d="M274.68 1725.3L274.68 1752.9" stroke="#231815" stroke-width="1.5" fill="none" /><path d="M302.5 1724.55L302.5 1753.65" stroke="#231815" stroke-width="1.5" fill="none" /><ellipse cx="288.59" cy="1739.1" rx="13.7" ry="13.7" fill="none" stroke="#231815" stroke-width="1.5"/><path d="M274.68 1737.45L286.94 1737.45L286.94 1725.3M274.68 1740.75L286.94 1740.75L286.94 1752.9M302.5 1737.45L290.24 1737.45L290.24 1725.3M302.5 1740.75L290.24 1740.75L290.24 1752.9" stroke="#231815" stroke-width="1.5" fill="none"/><text x="255.72" y="1743.42" font-size="12" font-weight="700" fill="#231815" style='font-family:"Liberation Sans","Noto Sans CJK SC",sans-serif' text-anchor="middle" textLength="12.48" lengthAdjust="spacingAndGlyphs" >11</text><path d="M246.3 1758L302.5 1758" stroke="#231815" stroke-width="1.5" fill="none" /><path d="M246.3 1785.6L302.5 1785.6" stroke="#231815" stroke-width="1.5" fill="none" /><path d="M267.94 1758L267.94 1785.6" stroke="#231815" stroke-width="1.5" fill="none" /><path d="M274.68 1758L274.68 1785.6" stroke="#231815" stroke-width="1.5" fill="none" /><path d="M302.5 1757.25L302.5 1786.35" stroke="#231815" stroke-width="1.5" fill="none" /><ellipse cx="288.59" cy="1771.8" rx="13.7" ry="13.7" fill="none" stroke="#231815" stroke-width="1.5"/><path d="M274.68 1770.15L286.94 1770.15L286.94 1758M274.68 1773.45L286.94 1773.45L286.94 1785.6M302.5 1770.15L290.24 1770.15L290.24 1758M302.5 1773.45L290.24 1773.45L290.24 1785.6" stroke="#231815" stroke-width="1.5" fill="none"/><text x="255.72" y="1776.12" font-size="12" font-weight="700" fill="#231815" style='font-family:"Liberation Sans","Noto Sans CJK SC",sans-serif' text-anchor="middle" textLength="12.48" lengthAdjust="spacingAndGlyphs" >12</text><path d="M302.5 1740.9L331.8 1740.9" stroke="#231815" stroke-width="1.4" fill="none" /><circle cx="334.8" cy="1740.9" r="2.9" fill="#fff" stroke="#231815" stroke-width="1.4"/><path d="M302.5 1772.2L331.8 1772.2" stroke="#231815" stroke-width="1.4" fill="none" /><circle cx="334.8" cy="1772.2" r="2.9" fill="#fff" stroke="#231815" stroke-width="1.4"/><text x="313" y="1735.4" font-size="15.7" fill="#231815" stroke="#231815" stroke-width="0.22" style='font-family:"Liberation Sans","DejaVu Sans","Noto Sans CJK SC",sans-serif' textLength="8.7" lengthAdjust="spacingAndGlyphs">L</text><text x="315.9" y="1789.3" font-size="15.7" fill="#231815" stroke="#231815" stroke-width="0.22" style='font-family:"Liberation Sans","DejaVu Sans","Noto Sans CJK SC",sans-serif' textLength="10.1" lengthAdjust="spacingAndGlyphs">N</text></g></svg></body></html>
